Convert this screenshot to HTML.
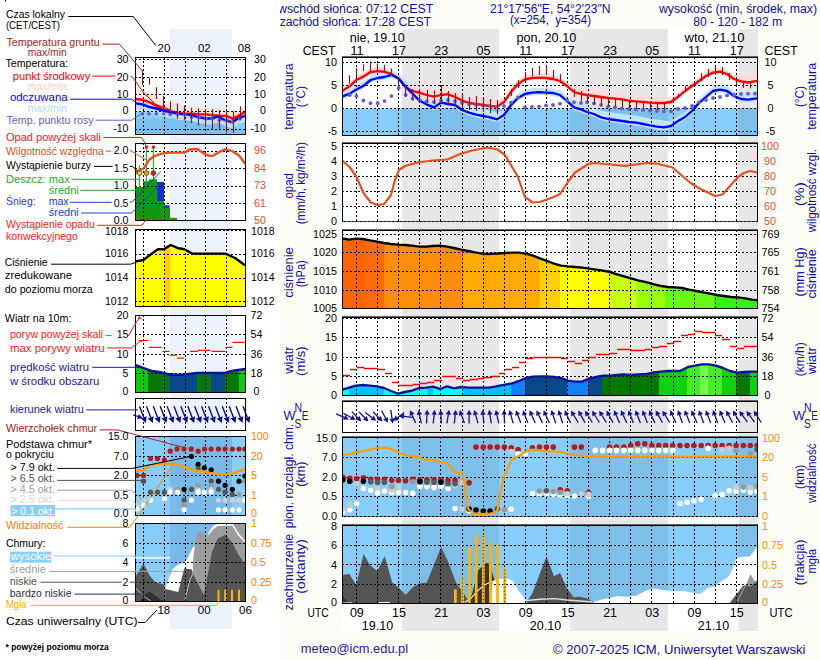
<!DOCTYPE html>
<html><head><meta charset="utf-8"><style>
html,body{margin:0;padding:0;background:#fdfdf8;overflow:hidden;width:820px;height:660px;}
svg{display:block;font-family:"Liberation Sans", sans-serif;}
</style></head><body>
<svg width="820" height="660" viewBox="0 0 820 660">
<defs>
<clipPath id="m0"><rect x="342.5" y="57.5" width="415" height="78"/></clipPath>
<clipPath id="m1"><rect x="342.5" y="143.5" width="415" height="78"/></clipPath>
<clipPath id="m2"><rect x="342.5" y="230.5" width="415" height="78"/></clipPath>
<clipPath id="m3"><rect x="342.5" y="317.5" width="415" height="78"/></clipPath>
<clipPath id="m4"><rect x="342.5" y="401.5" width="415" height="31"/></clipPath>
<clipPath id="m5"><rect x="342.5" y="437.5" width="415" height="79"/></clipPath>
<clipPath id="m6"><rect x="342.5" y="525.5" width="415" height="78"/></clipPath>
<clipPath id="l0"><rect x="135.5" y="57.5" width="110" height="77"/></clipPath>
<clipPath id="l1"><rect x="135.5" y="143.5" width="110" height="77"/></clipPath>
<clipPath id="l2"><rect x="135.5" y="229.5" width="110" height="77"/></clipPath>
<clipPath id="l3"><rect x="135.5" y="315.5" width="110" height="77"/></clipPath>
<clipPath id="l4"><rect x="135.5" y="398.5" width="110" height="32"/></clipPath>
<clipPath id="l5"><rect x="135.5" y="436.5" width="110" height="79"/></clipPath>
<clipPath id="l6"><rect x="135.5" y="523.5" width="110" height="78"/></clipPath>
</defs>
<rect x="0" y="0" width="820" height="660" fill="#fdfdf8" />
<rect x="0" y="0" width="280" height="660" fill="#fff" />
<rect x="5" y="0" width="1" height="1.5" fill="#000" />
<rect x="342" y="29" width="416" height="602" fill="#fff" />
<rect x="135" y="29" width="111" height="600" fill="#fff" />
<rect x="170" y="29" width="62" height="600" fill="#ecf2fb" />
<rect x="402" y="29" width="97" height="602" fill="#e7e7e7" />
<rect x="570" y="29" width="98" height="602" fill="#e7e7e7" />
<rect x="738.5" y="29" width="19.5" height="602" fill="#e7e7e7" />
<rect x="342.5" y="108.5" width="415" height="27.0" fill="#87cefa" />
<rect x="342.5" y="437.5" width="415" height="79.0" fill="#87cefa" />
<rect x="342.5" y="525.5" width="415" height="78.0" fill="#87cefa" />
<rect x="135.5" y="111.5" width="110" height="23.0" fill="#87cefa" />
<rect x="135.5" y="436.5" width="110" height="79.0" fill="#87cefa" />
<rect x="135.5" y="523.5" width="110" height="78.0" fill="#87cefa" />
<rect x="402" y="108.5" width="97" height="27.0" fill="#7cc0ea" />
<rect x="402" y="437.5" width="97" height="79.0" fill="#7cc0ea" />
<rect x="402" y="525.5" width="97" height="78.0" fill="#7cc0ea" />
<rect x="570" y="108.5" width="98" height="27.0" fill="#7cc0ea" />
<rect x="570" y="437.5" width="98" height="79.0" fill="#7cc0ea" />
<rect x="570" y="525.5" width="98" height="78.0" fill="#7cc0ea" />
<rect x="738.5" y="108.5" width="19.0" height="27.0" fill="#7cc0ea" />
<rect x="738.5" y="437.5" width="19.0" height="79.0" fill="#7cc0ea" />
<rect x="738.5" y="525.5" width="19.0" height="78.0" fill="#7cc0ea" />
<rect x="170" y="111.5" width="62" height="23.0" fill="#77bae9" />
<rect x="170" y="436.5" width="62" height="79.0" fill="#77bae9" />
<rect x="170" y="523.5" width="62" height="78.0" fill="#77bae9" />
<line x1="402" y1="62.5" x2="499" y2="62.5" stroke="#fff" stroke-width="1"/>
<line x1="402" y1="85.5" x2="499" y2="85.5" stroke="#fff" stroke-width="1"/>
<line x1="402" y1="108.5" x2="499" y2="108.5" stroke="#87cefa" stroke-width="1"/>
<line x1="402" y1="131.5" x2="499" y2="131.5" stroke="#87cefa" stroke-width="1"/>
<line x1="402" y1="146.5" x2="499" y2="146.5" stroke="#fff" stroke-width="1"/>
<line x1="402" y1="161.5" x2="499" y2="161.5" stroke="#fff" stroke-width="1"/>
<line x1="402" y1="176.5" x2="499" y2="176.5" stroke="#fff" stroke-width="1"/>
<line x1="402" y1="191.5" x2="499" y2="191.5" stroke="#fff" stroke-width="1"/>
<line x1="402" y1="206.5" x2="499" y2="206.5" stroke="#fff" stroke-width="1"/>
<line x1="402" y1="234.5" x2="499" y2="234.5" stroke="#fff" stroke-width="1"/>
<line x1="402" y1="252.5" x2="499" y2="252.5" stroke="#fff" stroke-width="1"/>
<line x1="402" y1="271.5" x2="499" y2="271.5" stroke="#fff" stroke-width="1"/>
<line x1="402" y1="290.5" x2="499" y2="290.5" stroke="#fff" stroke-width="1"/>
<line x1="402" y1="318.5" x2="499" y2="318.5" stroke="#fff" stroke-width="1"/>
<line x1="402" y1="337.5" x2="499" y2="337.5" stroke="#fff" stroke-width="1"/>
<line x1="402" y1="357.5" x2="499" y2="357.5" stroke="#fff" stroke-width="1"/>
<line x1="402" y1="376.5" x2="499" y2="376.5" stroke="#fff" stroke-width="1"/>
<line x1="402" y1="457.5" x2="499" y2="457.5" stroke="#87cefa" stroke-width="1"/>
<line x1="402" y1="477.5" x2="499" y2="477.5" stroke="#87cefa" stroke-width="1"/>
<line x1="402" y1="496.5" x2="499" y2="496.5" stroke="#87cefa" stroke-width="1"/>
<line x1="402" y1="545.5" x2="499" y2="545.5" stroke="#87cefa" stroke-width="1"/>
<line x1="402" y1="564.5" x2="499" y2="564.5" stroke="#87cefa" stroke-width="1"/>
<line x1="402" y1="584.5" x2="499" y2="584.5" stroke="#87cefa" stroke-width="1"/>
<line x1="419.5" y1="57" x2="419.5" y2="108.5" stroke="#fff" stroke-width="1"/>
<line x1="419.5" y1="108.5" x2="419.5" y2="135" stroke="#87cefa" stroke-width="1"/>
<line x1="419.5" y1="143" x2="419.5" y2="221" stroke="#fff" stroke-width="1"/>
<line x1="419.5" y1="230" x2="419.5" y2="308" stroke="#fff" stroke-width="1"/>
<line x1="419.5" y1="317" x2="419.5" y2="395" stroke="#fff" stroke-width="1"/>
<line x1="419.5" y1="401" x2="419.5" y2="432" stroke="#fff" stroke-width="1"/>
<line x1="419.5" y1="437" x2="419.5" y2="516" stroke="#87cefa" stroke-width="1"/>
<line x1="419.5" y1="525" x2="419.5" y2="603" stroke="#87cefa" stroke-width="1"/>
<line x1="440.5" y1="57" x2="440.5" y2="108.5" stroke="#fff" stroke-width="1"/>
<line x1="440.5" y1="108.5" x2="440.5" y2="135" stroke="#87cefa" stroke-width="1"/>
<line x1="440.5" y1="143" x2="440.5" y2="221" stroke="#fff" stroke-width="1"/>
<line x1="440.5" y1="230" x2="440.5" y2="308" stroke="#fff" stroke-width="1"/>
<line x1="440.5" y1="317" x2="440.5" y2="395" stroke="#fff" stroke-width="1"/>
<line x1="440.5" y1="401" x2="440.5" y2="432" stroke="#fff" stroke-width="1"/>
<line x1="440.5" y1="437" x2="440.5" y2="516" stroke="#87cefa" stroke-width="1"/>
<line x1="440.5" y1="525" x2="440.5" y2="603" stroke="#87cefa" stroke-width="1"/>
<line x1="462.5" y1="57" x2="462.5" y2="108.5" stroke="#fff" stroke-width="1"/>
<line x1="462.5" y1="108.5" x2="462.5" y2="135" stroke="#87cefa" stroke-width="1"/>
<line x1="462.5" y1="143" x2="462.5" y2="221" stroke="#fff" stroke-width="1"/>
<line x1="462.5" y1="230" x2="462.5" y2="308" stroke="#fff" stroke-width="1"/>
<line x1="462.5" y1="317" x2="462.5" y2="395" stroke="#fff" stroke-width="1"/>
<line x1="462.5" y1="401" x2="462.5" y2="432" stroke="#fff" stroke-width="1"/>
<line x1="462.5" y1="437" x2="462.5" y2="516" stroke="#87cefa" stroke-width="1"/>
<line x1="462.5" y1="525" x2="462.5" y2="603" stroke="#87cefa" stroke-width="1"/>
<line x1="483.5" y1="57" x2="483.5" y2="108.5" stroke="#fff" stroke-width="1"/>
<line x1="483.5" y1="108.5" x2="483.5" y2="135" stroke="#87cefa" stroke-width="1"/>
<line x1="483.5" y1="143" x2="483.5" y2="221" stroke="#fff" stroke-width="1"/>
<line x1="483.5" y1="230" x2="483.5" y2="308" stroke="#fff" stroke-width="1"/>
<line x1="483.5" y1="317" x2="483.5" y2="395" stroke="#fff" stroke-width="1"/>
<line x1="483.5" y1="401" x2="483.5" y2="432" stroke="#fff" stroke-width="1"/>
<line x1="483.5" y1="437" x2="483.5" y2="516" stroke="#87cefa" stroke-width="1"/>
<line x1="483.5" y1="525" x2="483.5" y2="603" stroke="#87cefa" stroke-width="1"/>
<line x1="570" y1="62.5" x2="668" y2="62.5" stroke="#fff" stroke-width="1"/>
<line x1="570" y1="85.5" x2="668" y2="85.5" stroke="#fff" stroke-width="1"/>
<line x1="570" y1="108.5" x2="668" y2="108.5" stroke="#87cefa" stroke-width="1"/>
<line x1="570" y1="131.5" x2="668" y2="131.5" stroke="#87cefa" stroke-width="1"/>
<line x1="570" y1="146.5" x2="668" y2="146.5" stroke="#fff" stroke-width="1"/>
<line x1="570" y1="161.5" x2="668" y2="161.5" stroke="#fff" stroke-width="1"/>
<line x1="570" y1="176.5" x2="668" y2="176.5" stroke="#fff" stroke-width="1"/>
<line x1="570" y1="191.5" x2="668" y2="191.5" stroke="#fff" stroke-width="1"/>
<line x1="570" y1="206.5" x2="668" y2="206.5" stroke="#fff" stroke-width="1"/>
<line x1="570" y1="234.5" x2="668" y2="234.5" stroke="#fff" stroke-width="1"/>
<line x1="570" y1="252.5" x2="668" y2="252.5" stroke="#fff" stroke-width="1"/>
<line x1="570" y1="271.5" x2="668" y2="271.5" stroke="#fff" stroke-width="1"/>
<line x1="570" y1="290.5" x2="668" y2="290.5" stroke="#fff" stroke-width="1"/>
<line x1="570" y1="318.5" x2="668" y2="318.5" stroke="#fff" stroke-width="1"/>
<line x1="570" y1="337.5" x2="668" y2="337.5" stroke="#fff" stroke-width="1"/>
<line x1="570" y1="357.5" x2="668" y2="357.5" stroke="#fff" stroke-width="1"/>
<line x1="570" y1="376.5" x2="668" y2="376.5" stroke="#fff" stroke-width="1"/>
<line x1="570" y1="457.5" x2="668" y2="457.5" stroke="#87cefa" stroke-width="1"/>
<line x1="570" y1="477.5" x2="668" y2="477.5" stroke="#87cefa" stroke-width="1"/>
<line x1="570" y1="496.5" x2="668" y2="496.5" stroke="#87cefa" stroke-width="1"/>
<line x1="570" y1="545.5" x2="668" y2="545.5" stroke="#87cefa" stroke-width="1"/>
<line x1="570" y1="564.5" x2="668" y2="564.5" stroke="#87cefa" stroke-width="1"/>
<line x1="570" y1="584.5" x2="668" y2="584.5" stroke="#87cefa" stroke-width="1"/>
<line x1="588.5" y1="57" x2="588.5" y2="108.5" stroke="#fff" stroke-width="1"/>
<line x1="588.5" y1="108.5" x2="588.5" y2="135" stroke="#87cefa" stroke-width="1"/>
<line x1="588.5" y1="143" x2="588.5" y2="221" stroke="#fff" stroke-width="1"/>
<line x1="588.5" y1="230" x2="588.5" y2="308" stroke="#fff" stroke-width="1"/>
<line x1="588.5" y1="317" x2="588.5" y2="395" stroke="#fff" stroke-width="1"/>
<line x1="588.5" y1="401" x2="588.5" y2="432" stroke="#fff" stroke-width="1"/>
<line x1="588.5" y1="437" x2="588.5" y2="516" stroke="#87cefa" stroke-width="1"/>
<line x1="588.5" y1="525" x2="588.5" y2="603" stroke="#87cefa" stroke-width="1"/>
<line x1="609.5" y1="57" x2="609.5" y2="108.5" stroke="#fff" stroke-width="1"/>
<line x1="609.5" y1="108.5" x2="609.5" y2="135" stroke="#87cefa" stroke-width="1"/>
<line x1="609.5" y1="143" x2="609.5" y2="221" stroke="#fff" stroke-width="1"/>
<line x1="609.5" y1="230" x2="609.5" y2="308" stroke="#fff" stroke-width="1"/>
<line x1="609.5" y1="317" x2="609.5" y2="395" stroke="#fff" stroke-width="1"/>
<line x1="609.5" y1="401" x2="609.5" y2="432" stroke="#fff" stroke-width="1"/>
<line x1="609.5" y1="437" x2="609.5" y2="516" stroke="#87cefa" stroke-width="1"/>
<line x1="609.5" y1="525" x2="609.5" y2="603" stroke="#87cefa" stroke-width="1"/>
<line x1="630.5" y1="57" x2="630.5" y2="108.5" stroke="#fff" stroke-width="1"/>
<line x1="630.5" y1="108.5" x2="630.5" y2="135" stroke="#87cefa" stroke-width="1"/>
<line x1="630.5" y1="143" x2="630.5" y2="221" stroke="#fff" stroke-width="1"/>
<line x1="630.5" y1="230" x2="630.5" y2="308" stroke="#fff" stroke-width="1"/>
<line x1="630.5" y1="317" x2="630.5" y2="395" stroke="#fff" stroke-width="1"/>
<line x1="630.5" y1="401" x2="630.5" y2="432" stroke="#fff" stroke-width="1"/>
<line x1="630.5" y1="437" x2="630.5" y2="516" stroke="#87cefa" stroke-width="1"/>
<line x1="630.5" y1="525" x2="630.5" y2="603" stroke="#87cefa" stroke-width="1"/>
<line x1="651.5" y1="57" x2="651.5" y2="108.5" stroke="#fff" stroke-width="1"/>
<line x1="651.5" y1="108.5" x2="651.5" y2="135" stroke="#87cefa" stroke-width="1"/>
<line x1="651.5" y1="143" x2="651.5" y2="221" stroke="#fff" stroke-width="1"/>
<line x1="651.5" y1="230" x2="651.5" y2="308" stroke="#fff" stroke-width="1"/>
<line x1="651.5" y1="317" x2="651.5" y2="395" stroke="#fff" stroke-width="1"/>
<line x1="651.5" y1="401" x2="651.5" y2="432" stroke="#fff" stroke-width="1"/>
<line x1="651.5" y1="437" x2="651.5" y2="516" stroke="#87cefa" stroke-width="1"/>
<line x1="651.5" y1="525" x2="651.5" y2="603" stroke="#87cefa" stroke-width="1"/>
<line x1="738.5" y1="62.5" x2="757" y2="62.5" stroke="#fff" stroke-width="1"/>
<line x1="738.5" y1="85.5" x2="757" y2="85.5" stroke="#fff" stroke-width="1"/>
<line x1="738.5" y1="108.5" x2="757" y2="108.5" stroke="#87cefa" stroke-width="1"/>
<line x1="738.5" y1="131.5" x2="757" y2="131.5" stroke="#87cefa" stroke-width="1"/>
<line x1="738.5" y1="146.5" x2="757" y2="146.5" stroke="#fff" stroke-width="1"/>
<line x1="738.5" y1="161.5" x2="757" y2="161.5" stroke="#fff" stroke-width="1"/>
<line x1="738.5" y1="176.5" x2="757" y2="176.5" stroke="#fff" stroke-width="1"/>
<line x1="738.5" y1="191.5" x2="757" y2="191.5" stroke="#fff" stroke-width="1"/>
<line x1="738.5" y1="206.5" x2="757" y2="206.5" stroke="#fff" stroke-width="1"/>
<line x1="738.5" y1="234.5" x2="757" y2="234.5" stroke="#fff" stroke-width="1"/>
<line x1="738.5" y1="252.5" x2="757" y2="252.5" stroke="#fff" stroke-width="1"/>
<line x1="738.5" y1="271.5" x2="757" y2="271.5" stroke="#fff" stroke-width="1"/>
<line x1="738.5" y1="290.5" x2="757" y2="290.5" stroke="#fff" stroke-width="1"/>
<line x1="738.5" y1="318.5" x2="757" y2="318.5" stroke="#fff" stroke-width="1"/>
<line x1="738.5" y1="337.5" x2="757" y2="337.5" stroke="#fff" stroke-width="1"/>
<line x1="738.5" y1="357.5" x2="757" y2="357.5" stroke="#fff" stroke-width="1"/>
<line x1="738.5" y1="376.5" x2="757" y2="376.5" stroke="#fff" stroke-width="1"/>
<line x1="738.5" y1="457.5" x2="757" y2="457.5" stroke="#87cefa" stroke-width="1"/>
<line x1="738.5" y1="477.5" x2="757" y2="477.5" stroke="#87cefa" stroke-width="1"/>
<line x1="738.5" y1="496.5" x2="757" y2="496.5" stroke="#87cefa" stroke-width="1"/>
<line x1="738.5" y1="545.5" x2="757" y2="545.5" stroke="#87cefa" stroke-width="1"/>
<line x1="738.5" y1="564.5" x2="757" y2="564.5" stroke="#87cefa" stroke-width="1"/>
<line x1="738.5" y1="584.5" x2="757" y2="584.5" stroke="#87cefa" stroke-width="1"/>
<line x1="170" y1="59.5" x2="232" y2="59.5" stroke="#fff" stroke-width="1"/>
<line x1="170" y1="77.5" x2="232" y2="77.5" stroke="#fff" stroke-width="1"/>
<line x1="170" y1="94.5" x2="232" y2="94.5" stroke="#fff" stroke-width="1"/>
<line x1="170" y1="111.5" x2="232" y2="111.5" stroke="#87cefa" stroke-width="1"/>
<line x1="170" y1="129.5" x2="232" y2="129.5" stroke="#87cefa" stroke-width="1"/>
<line x1="170" y1="151.5" x2="232" y2="151.5" stroke="#fff" stroke-width="1"/>
<line x1="170" y1="168.5" x2="232" y2="168.5" stroke="#fff" stroke-width="1"/>
<line x1="170" y1="186.5" x2="232" y2="186.5" stroke="#fff" stroke-width="1"/>
<line x1="170" y1="203.5" x2="232" y2="203.5" stroke="#fff" stroke-width="1"/>
<line x1="170" y1="230.5" x2="232" y2="230.5" stroke="#fff" stroke-width="1"/>
<line x1="170" y1="254.5" x2="232" y2="254.5" stroke="#fff" stroke-width="1"/>
<line x1="170" y1="278.5" x2="232" y2="278.5" stroke="#fff" stroke-width="1"/>
<line x1="170" y1="301.5" x2="232" y2="301.5" stroke="#fff" stroke-width="1"/>
<line x1="170" y1="315.5" x2="232" y2="315.5" stroke="#fff" stroke-width="1"/>
<line x1="170" y1="334.5" x2="232" y2="334.5" stroke="#fff" stroke-width="1"/>
<line x1="170" y1="354.5" x2="232" y2="354.5" stroke="#fff" stroke-width="1"/>
<line x1="170" y1="373.5" x2="232" y2="373.5" stroke="#fff" stroke-width="1"/>
<line x1="170" y1="456.5" x2="232" y2="456.5" stroke="#87cefa" stroke-width="1"/>
<line x1="170" y1="475.5" x2="232" y2="475.5" stroke="#87cefa" stroke-width="1"/>
<line x1="170" y1="495.5" x2="232" y2="495.5" stroke="#87cefa" stroke-width="1"/>
<line x1="170" y1="543.5" x2="232" y2="543.5" stroke="#87cefa" stroke-width="1"/>
<line x1="170" y1="562.5" x2="232" y2="562.5" stroke="#87cefa" stroke-width="1"/>
<line x1="170" y1="582.5" x2="232" y2="582.5" stroke="#87cefa" stroke-width="1"/>
<line x1="185.5" y1="57" x2="185.5" y2="111.5" stroke="#fff" stroke-width="1"/>
<line x1="185.5" y1="111.5" x2="185.5" y2="134" stroke="#87cefa" stroke-width="1"/>
<line x1="185.5" y1="143" x2="185.5" y2="220" stroke="#fff" stroke-width="1"/>
<line x1="185.5" y1="229" x2="185.5" y2="306" stroke="#fff" stroke-width="1"/>
<line x1="185.5" y1="315" x2="185.5" y2="392" stroke="#fff" stroke-width="1"/>
<line x1="185.5" y1="398" x2="185.5" y2="430" stroke="#fff" stroke-width="1"/>
<line x1="185.5" y1="436" x2="185.5" y2="515" stroke="#87cefa" stroke-width="1"/>
<line x1="185.5" y1="523" x2="185.5" y2="601" stroke="#87cefa" stroke-width="1"/>
<line x1="205.5" y1="57" x2="205.5" y2="111.5" stroke="#fff" stroke-width="1"/>
<line x1="205.5" y1="111.5" x2="205.5" y2="134" stroke="#87cefa" stroke-width="1"/>
<line x1="205.5" y1="143" x2="205.5" y2="220" stroke="#fff" stroke-width="1"/>
<line x1="205.5" y1="229" x2="205.5" y2="306" stroke="#fff" stroke-width="1"/>
<line x1="205.5" y1="315" x2="205.5" y2="392" stroke="#fff" stroke-width="1"/>
<line x1="205.5" y1="398" x2="205.5" y2="430" stroke="#fff" stroke-width="1"/>
<line x1="205.5" y1="436" x2="205.5" y2="515" stroke="#87cefa" stroke-width="1"/>
<line x1="205.5" y1="523" x2="205.5" y2="601" stroke="#87cefa" stroke-width="1"/>
<line x1="226.5" y1="57" x2="226.5" y2="111.5" stroke="#fff" stroke-width="1"/>
<line x1="226.5" y1="111.5" x2="226.5" y2="134" stroke="#87cefa" stroke-width="1"/>
<line x1="226.5" y1="143" x2="226.5" y2="220" stroke="#fff" stroke-width="1"/>
<line x1="226.5" y1="229" x2="226.5" y2="306" stroke="#fff" stroke-width="1"/>
<line x1="226.5" y1="315" x2="226.5" y2="392" stroke="#fff" stroke-width="1"/>
<line x1="226.5" y1="398" x2="226.5" y2="430" stroke="#fff" stroke-width="1"/>
<line x1="226.5" y1="436" x2="226.5" y2="515" stroke="#87cefa" stroke-width="1"/>
<line x1="226.5" y1="523" x2="226.5" y2="601" stroke="#87cefa" stroke-width="1"/>
<g clip-path="url(#m0)">
<polygon points="342.5,86.9 349.8,82.1 356.3,76.0 363.4,72.6 370.6,68.1 377.7,67.1 384.5,67.8 391.4,69.9 398.6,74.6 405.7,80.6 412.5,84.7 419.3,86.0 426.5,88.5 434.0,90.1 441.0,88.5 448.0,87.7 455.0,90.5 462.0,94.1 469.0,96.5 476.0,97.5 483.0,98.5 490.0,99.5 497.0,100.1 504.0,98.0 511.0,88.0 518.0,80.0 525.0,75.4 532.0,74.0 539.0,73.6 546.0,74.0 553.0,75.0 560.0,77.0 567.0,82.0 574.0,85.5 581.0,87.5 587.0,88.5 594.0,89.5 601.0,90.5 608.0,91.5 615.0,92.1 622.0,92.9 629.0,94.1 636.0,94.9 643.0,95.5 650.0,96.1 657.0,96.5 664.0,96.5 671.0,98.0 678.0,93.0 685.0,87.0 692.0,82.0 699.0,77.0 706.0,72.0 713.0,68.6 720.0,67.6 727.0,70.0 734.0,75.0 741.0,74.9 748.0,76.0 757.0,74.3 757.0,83.3 748.0,85.0 741.0,83.9 734.0,81.5 727.0,76.5 720.0,74.1 713.0,75.1 706.0,78.5 699.0,83.5 692.0,88.5 685.0,93.5 678.0,99.5 671.0,104.5 664.0,105.5 657.0,105.5 650.0,105.1 643.0,104.5 636.0,103.9 629.0,103.1 622.0,101.9 615.0,101.1 608.0,100.5 601.0,99.5 594.0,98.5 587.0,97.5 581.0,96.5 574.0,94.5 567.0,88.5 560.0,83.5 553.0,81.5 546.0,80.5 539.0,80.1 532.0,80.5 525.0,81.9 518.0,86.5 511.0,94.5 504.0,104.5 497.0,109.1 490.0,108.5 483.0,107.5 476.0,106.5 469.0,105.5 462.0,103.1 455.0,99.5 448.0,96.7 441.0,97.5 434.0,99.1 426.5,97.5 419.3,95.0 412.5,93.7 405.7,89.6 398.6,81.1 391.4,76.4 384.5,74.3 377.7,73.6 370.6,74.6 363.4,79.1 356.3,82.5 349.8,88.6 342.5,93.4" fill="#ffdcdc" />
<polygon points="342.5,91.9 349.8,89.1 356.3,85.0 363.4,81.4 370.6,75.5 377.7,73.5 384.5,72.5 391.4,70.3 398.6,74.1 405.7,80.0 412.5,86.6 419.3,93.5 427.0,97.6 434.0,100.4 441.0,95.6 448.0,97.0 455.0,98.0 462.0,103.0 469.0,105.6 476.0,107.6 483.0,109.0 490.0,110.4 497.0,112.4 504.0,110.5 511.0,100.5 518.0,93.5 525.0,89.5 532.0,88.1 539.0,87.7 546.0,88.1 553.0,88.5 560.0,90.5 567.0,96.5 574.0,100.4 581.0,102.4 587.0,105.0 594.0,107.0 601.0,110.4 608.0,112.0 615.0,113.0 622.0,114.0 629.0,115.0 636.0,115.6 643.0,117.0 650.0,118.4 657.0,119.6 664.0,120.4 671.0,121.5 678.0,116.5 685.0,112.5 692.0,106.5 699.0,98.5 706.0,92.5 713.0,86.5 720.0,85.1 727.0,86.5 734.0,91.5 741.0,92.0 748.0,92.6 757.0,91.3 757.0,101.1 748.0,102.4 741.0,101.8 734.0,98.8 727.0,93.8 720.0,92.4 713.0,93.8 706.0,99.8 699.0,105.8 692.0,113.8 685.0,119.8 678.0,123.8 671.0,128.8 664.0,130.2 657.0,129.4 650.0,128.2 643.0,126.8 636.0,125.4 629.0,124.8 622.0,123.8 615.0,122.8 608.0,121.8 601.0,120.2 594.0,116.8 587.0,114.8 581.0,112.2 574.0,110.2 567.0,103.8 560.0,97.8 553.0,95.8 546.0,95.4 539.0,95.0 532.0,95.4 525.0,96.8 518.0,100.8 511.0,107.8 504.0,117.8 497.0,122.2 490.0,120.2 483.0,118.8 476.0,117.4 469.0,115.4 462.0,112.8 455.0,107.8 448.0,106.8 441.0,105.4 434.0,110.2 427.0,107.4 419.3,103.3 412.5,96.4 405.7,89.8 398.6,81.4 391.4,77.6 384.5,79.8 377.7,80.8 370.6,82.8 363.4,88.7 356.3,92.3 349.8,96.4 342.5,99.2" fill="#bfe5ff" />
</g>
<line x1="342" y1="62.5" x2="757" y2="62.5" stroke="#000" stroke-width="1" stroke-dasharray="2,2"/>
<line x1="342" y1="85.5" x2="757" y2="85.5" stroke="#000" stroke-width="1" stroke-dasharray="2,2"/>
<line x1="342" y1="108.5" x2="757" y2="108.5" stroke="#000" stroke-width="1" stroke-dasharray="2,2"/>
<line x1="342" y1="131.5" x2="757" y2="131.5" stroke="#000" stroke-width="1" stroke-dasharray="2,2"/>
<line x1="356.5" y1="57" x2="356.5" y2="135" stroke="#000" stroke-width="1" stroke-dasharray="2,2"/>
<line x1="377.5" y1="57" x2="377.5" y2="135" stroke="#000" stroke-width="1" stroke-dasharray="2,2"/>
<line x1="398.5" y1="57" x2="398.5" y2="135" stroke="#000" stroke-width="1" stroke-dasharray="2,2"/>
<line x1="419.5" y1="57" x2="419.5" y2="135" stroke="#000" stroke-width="1" stroke-dasharray="2,2"/>
<line x1="440.5" y1="57" x2="440.5" y2="135" stroke="#000" stroke-width="1" stroke-dasharray="2,2"/>
<line x1="462.5" y1="57" x2="462.5" y2="135" stroke="#000" stroke-width="1" stroke-dasharray="2,2"/>
<line x1="483.5" y1="57" x2="483.5" y2="135" stroke="#000" stroke-width="1" stroke-dasharray="2,2"/>
<line x1="504.5" y1="57" x2="504.5" y2="135" stroke="#000" stroke-width="1" stroke-dasharray="2,2"/>
<line x1="525.5" y1="57" x2="525.5" y2="135" stroke="#000" stroke-width="1" stroke-dasharray="2,2"/>
<line x1="546.5" y1="57" x2="546.5" y2="135" stroke="#000" stroke-width="1" stroke-dasharray="2,2"/>
<line x1="567.5" y1="57" x2="567.5" y2="135" stroke="#000" stroke-width="1" stroke-dasharray="2,2"/>
<line x1="588.5" y1="57" x2="588.5" y2="135" stroke="#000" stroke-width="1" stroke-dasharray="2,2"/>
<line x1="609.5" y1="57" x2="609.5" y2="135" stroke="#000" stroke-width="1" stroke-dasharray="2,2"/>
<line x1="630.5" y1="57" x2="630.5" y2="135" stroke="#000" stroke-width="1" stroke-dasharray="2,2"/>
<line x1="651.5" y1="57" x2="651.5" y2="135" stroke="#000" stroke-width="1" stroke-dasharray="2,2"/>
<line x1="673.5" y1="57" x2="673.5" y2="135" stroke="#000" stroke-width="1" stroke-dasharray="2,2"/>
<line x1="694.5" y1="57" x2="694.5" y2="135" stroke="#000" stroke-width="1" stroke-dasharray="2,2"/>
<line x1="715.5" y1="57" x2="715.5" y2="135" stroke="#000" stroke-width="1" stroke-dasharray="2,2"/>
<line x1="736.5" y1="57" x2="736.5" y2="135" stroke="#000" stroke-width="1" stroke-dasharray="2,2"/>
<g clip-path="url(#m0)">
<polyline points="342.5,90.9 349.8,86.1 356.3,80.0 363.4,76.6 370.6,72.1 377.7,71.1 384.5,71.8 391.4,73.9 398.6,78.6 405.7,87.1 412.5,91.2 419.3,92.5 426.5,95.0 434.0,96.6 441.0,95.0 448.0,94.2 455.0,97.0 462.0,100.6 469.0,103.0 476.0,104.0 483.0,105.0 490.0,106.0 497.0,106.6 504.0,102.0 511.0,92.0 518.0,84.0 525.0,79.4 532.0,78.0 539.0,77.6 546.0,78.0 553.0,79.0 560.0,81.0 567.0,86.0 574.0,92.0 581.0,94.0 587.0,95.0 594.0,96.0 601.0,97.0 608.0,98.0 615.0,98.6 622.0,99.4 629.0,100.6 636.0,101.4 643.0,102.0 650.0,102.6 657.0,103.0 664.0,103.0 671.0,102.0 678.0,97.0 685.0,91.0 692.0,86.0 699.0,81.0 706.0,76.0 713.0,72.6 720.0,71.6 727.0,74.0 734.0,79.0 741.0,81.4 748.0,82.5 757.0,80.8" fill="none" stroke="#ff0000" stroke-width="2.3" stroke-linejoin="round" />
<polyline points="342.5,96.4 349.8,93.6 356.3,89.5 363.4,85.9 370.6,80.0 377.7,78.0 384.5,77.0 391.4,74.8 398.6,78.6 405.7,87.0 412.5,93.6 419.3,100.5 427.0,104.6 434.0,107.4 441.0,102.6 448.0,104.0 455.0,105.0 462.0,110.0 469.0,112.6 476.0,114.6 483.0,116.0 490.0,117.4 497.0,119.4 504.0,115.0 511.0,105.0 518.0,98.0 525.0,94.0 532.0,92.6 539.0,92.2 546.0,92.6 553.0,93.0 560.0,95.0 567.0,101.0 574.0,107.4 581.0,109.4 587.0,112.0 594.0,114.0 601.0,117.4 608.0,119.0 615.0,120.0 622.0,121.0 629.0,122.0 636.0,122.6 643.0,124.0 650.0,125.4 657.0,126.6 664.0,127.4 671.0,126.0 678.0,121.0 685.0,117.0 692.0,111.0 699.0,103.0 706.0,97.0 713.0,91.0 720.0,89.6 727.0,91.0 734.0,96.0 741.0,99.0 748.0,99.6 757.0,98.3" fill="none" stroke="#0000ff" stroke-width="2.3" stroke-linejoin="round" />
<circle cx="349.8" cy="95" r="1.9" fill="#6a5acd"/>
<circle cx="356.3" cy="96.1" r="1.9" fill="#6a5acd"/>
<circle cx="363.4" cy="100.5" r="1.9" fill="#6a5acd"/>
<circle cx="370.6" cy="103.2" r="1.9" fill="#6a5acd"/>
<circle cx="377.7" cy="103.2" r="1.9" fill="#6a5acd"/>
<circle cx="384.5" cy="101.1" r="1.9" fill="#6a5acd"/>
<circle cx="391.4" cy="96.1" r="1.9" fill="#6a5acd"/>
<circle cx="398.6" cy="87.9" r="1.9" fill="#6a5acd"/>
<circle cx="405.7" cy="95" r="1.9" fill="#6a5acd"/>
<circle cx="412.5" cy="98.8" r="1.9" fill="#6a5acd"/>
<circle cx="419.5" cy="100" r="1.9" fill="#6a5acd"/>
<circle cx="426.5" cy="101.4" r="1.9" fill="#6a5acd"/>
<circle cx="434" cy="102" r="1.9" fill="#6a5acd"/>
<circle cx="441" cy="100.6" r="1.9" fill="#6a5acd"/>
<circle cx="448" cy="100" r="1.9" fill="#6a5acd"/>
<circle cx="455" cy="101" r="1.9" fill="#6a5acd"/>
<circle cx="462" cy="103" r="1.9" fill="#6a5acd"/>
<circle cx="469" cy="104" r="1.9" fill="#6a5acd"/>
<circle cx="476" cy="105" r="1.9" fill="#6a5acd"/>
<circle cx="483" cy="105.4" r="1.9" fill="#6a5acd"/>
<circle cx="490" cy="106" r="1.9" fill="#6a5acd"/>
<circle cx="497" cy="106.6" r="1.9" fill="#6a5acd"/>
<circle cx="504" cy="106" r="1.9" fill="#6a5acd"/>
<circle cx="511" cy="102.6" r="1.9" fill="#6a5acd"/>
<circle cx="518" cy="97.6" r="1.9" fill="#6a5acd"/>
<circle cx="525" cy="107.4" r="1.9" fill="#6a5acd"/>
<circle cx="532" cy="107" r="1.9" fill="#6a5acd"/>
<circle cx="539" cy="106.6" r="1.9" fill="#6a5acd"/>
<circle cx="546" cy="105.4" r="1.9" fill="#6a5acd"/>
<circle cx="553" cy="105" r="1.9" fill="#6a5acd"/>
<circle cx="560" cy="103.6" r="1.9" fill="#6a5acd"/>
<circle cx="567" cy="100.6" r="1.9" fill="#6a5acd"/>
<circle cx="574" cy="102.2" r="1.9" fill="#6a5acd"/>
<circle cx="581" cy="103" r="1.9" fill="#6a5acd"/>
<circle cx="587" cy="102.4" r="1.9" fill="#6a5acd"/>
<circle cx="594" cy="103.4" r="1.9" fill="#6a5acd"/>
<circle cx="601" cy="105" r="1.9" fill="#6a5acd"/>
<circle cx="608" cy="106.6" r="1.9" fill="#6a5acd"/>
<circle cx="615" cy="107.4" r="1.9" fill="#6a5acd"/>
<circle cx="622" cy="108.6" r="1.9" fill="#6a5acd"/>
<circle cx="629" cy="109" r="1.9" fill="#6a5acd"/>
<circle cx="636" cy="109.4" r="1.9" fill="#6a5acd"/>
<circle cx="643" cy="110" r="1.9" fill="#6a5acd"/>
<circle cx="650" cy="110.6" r="1.9" fill="#6a5acd"/>
<circle cx="657" cy="111" r="1.9" fill="#6a5acd"/>
<circle cx="664" cy="111.6" r="1.9" fill="#6a5acd"/>
<circle cx="671" cy="111.4" r="1.9" fill="#6a5acd"/>
<circle cx="678" cy="109" r="1.9" fill="#6a5acd"/>
<circle cx="685" cy="108" r="1.9" fill="#6a5acd"/>
<circle cx="692" cy="106" r="1.9" fill="#6a5acd"/>
<circle cx="699" cy="102.6" r="1.9" fill="#6a5acd"/>
<circle cx="706" cy="100" r="1.9" fill="#6a5acd"/>
<circle cx="713" cy="98" r="1.9" fill="#6a5acd"/>
<circle cx="720" cy="97" r="1.9" fill="#6a5acd"/>
<circle cx="727" cy="95.4" r="1.9" fill="#6a5acd"/>
<circle cx="734" cy="95" r="1.9" fill="#6a5acd"/>
<circle cx="741" cy="94" r="1.9" fill="#6a5acd"/>
<circle cx="748" cy="93.7" r="1.9" fill="#6a5acd"/>
<circle cx="755" cy="93.7" r="1.9" fill="#6a5acd"/>
<line x1="349.5" y1="75.2" x2="349.5" y2="83.4" stroke="#9a1414" stroke-width="1.15" />
<line x1="356.5" y1="67.7" x2="356.5" y2="77.3" stroke="#9a1414" stroke-width="1.15" />
<line x1="363.5" y1="64.3" x2="363.5" y2="71" stroke="#9a1414" stroke-width="1.15" />
<line x1="370.5" y1="61.6" x2="370.5" y2="71.8" stroke="#9a1414" stroke-width="1.15" />
<line x1="377.5" y1="63.6" x2="377.5" y2="70.5" stroke="#9a1414" stroke-width="1.15" />
<line x1="384.5" y1="64.7" x2="384.5" y2="72.5" stroke="#9a1414" stroke-width="1.15" />
<line x1="391.5" y1="68.4" x2="391.5" y2="75.9" stroke="#9a1414" stroke-width="1.15" />
<line x1="398.5" y1="78" x2="398.5" y2="85.5" stroke="#9a1414" stroke-width="1.15" />
<line x1="405.5" y1="86" x2="405.5" y2="96.4" stroke="#9a1414" stroke-width="1.15" />
<line x1="412.5" y1="88.9" x2="412.5" y2="99.8" stroke="#9a1414" stroke-width="1.15" />
<line x1="419.5" y1="89.3" x2="419.5" y2="102.5" stroke="#9a1414" stroke-width="1.15" />
<line x1="427.5" y1="90" x2="427.5" y2="103" stroke="#9a1414" stroke-width="1.15" />
<line x1="434.5" y1="90.6" x2="434.5" y2="104" stroke="#9a1414" stroke-width="1.15" />
<line x1="441.5" y1="85" x2="441.5" y2="102" stroke="#9a1414" stroke-width="1.15" />
<line x1="448.5" y1="91" x2="448.5" y2="104" stroke="#9a1414" stroke-width="1.15" />
<line x1="455.5" y1="93" x2="455.5" y2="106" stroke="#9a1414" stroke-width="1.15" />
<line x1="462.5" y1="94" x2="462.5" y2="108" stroke="#9a1414" stroke-width="1.15" />
<line x1="469.5" y1="97" x2="469.5" y2="110" stroke="#9a1414" stroke-width="1.15" />
<line x1="476.5" y1="96" x2="476.5" y2="111" stroke="#9a1414" stroke-width="1.15" />
<line x1="483.5" y1="98" x2="483.5" y2="112" stroke="#9a1414" stroke-width="1.15" />
<line x1="490.5" y1="99" x2="490.5" y2="113" stroke="#9a1414" stroke-width="1.15" />
<line x1="497.5" y1="100" x2="497.5" y2="114" stroke="#9a1414" stroke-width="1.15" />
<line x1="511.5" y1="89" x2="511.5" y2="96" stroke="#9a1414" stroke-width="1.15" />
<line x1="518.5" y1="80" x2="518.5" y2="88" stroke="#9a1414" stroke-width="1.15" />
<line x1="525.5" y1="72" x2="525.5" y2="82" stroke="#9a1414" stroke-width="1.15" />
<line x1="532.5" y1="68" x2="532.5" y2="76" stroke="#9a1414" stroke-width="1.15" />
<line x1="539.5" y1="66" x2="539.5" y2="75" stroke="#9a1414" stroke-width="1.15" />
<line x1="546.5" y1="66" x2="546.5" y2="75" stroke="#9a1414" stroke-width="1.15" />
<line x1="553.5" y1="70" x2="553.5" y2="78" stroke="#9a1414" stroke-width="1.15" />
<line x1="560.5" y1="74" x2="560.5" y2="83" stroke="#9a1414" stroke-width="1.15" />
<line x1="574.5" y1="89" x2="574.5" y2="97" stroke="#9a1414" stroke-width="1.15" />
<line x1="581.5" y1="91" x2="581.5" y2="101" stroke="#9a1414" stroke-width="1.15" />
<line x1="587.5" y1="94" x2="587.5" y2="102" stroke="#9a1414" stroke-width="1.15" />
<line x1="594.5" y1="96" x2="594.5" y2="104" stroke="#9a1414" stroke-width="1.15" />
<line x1="601.5" y1="97" x2="601.5" y2="105" stroke="#9a1414" stroke-width="1.15" />
<line x1="608.5" y1="98" x2="608.5" y2="106" stroke="#9a1414" stroke-width="1.15" />
<line x1="615.5" y1="98" x2="615.5" y2="106.6" stroke="#9a1414" stroke-width="1.15" />
<line x1="622.5" y1="99" x2="622.5" y2="107.4" stroke="#9a1414" stroke-width="1.15" />
<line x1="629.5" y1="100.6" x2="629.5" y2="108" stroke="#9a1414" stroke-width="1.15" />
<line x1="636.5" y1="101" x2="636.5" y2="109" stroke="#9a1414" stroke-width="1.15" />
<line x1="643.5" y1="101.4" x2="643.5" y2="109.4" stroke="#9a1414" stroke-width="1.15" />
<line x1="650.5" y1="101.4" x2="650.5" y2="109.4" stroke="#9a1414" stroke-width="1.15" />
<line x1="657.5" y1="102.6" x2="657.5" y2="110" stroke="#9a1414" stroke-width="1.15" />
<line x1="664.5" y1="103" x2="664.5" y2="110" stroke="#9a1414" stroke-width="1.15" />
<line x1="678.5" y1="94" x2="678.5" y2="98" stroke="#9a1414" stroke-width="1.15" />
<line x1="685.5" y1="86" x2="685.5" y2="92" stroke="#9a1414" stroke-width="1.15" />
<line x1="701.5" y1="73" x2="701.5" y2="81" stroke="#9a1414" stroke-width="1.15" />
<line x1="708.5" y1="69" x2="708.5" y2="77" stroke="#9a1414" stroke-width="1.15" />
<line x1="715.5" y1="67" x2="715.5" y2="75" stroke="#9a1414" stroke-width="1.15" />
<line x1="722.5" y1="67" x2="722.5" y2="75" stroke="#9a1414" stroke-width="1.15" />
<line x1="729.5" y1="73" x2="729.5" y2="80" stroke="#9a1414" stroke-width="1.15" />
<line x1="736.5" y1="79" x2="736.5" y2="85" stroke="#9a1414" stroke-width="1.15" />
<line x1="743.5" y1="83" x2="743.5" y2="88" stroke="#9a1414" stroke-width="1.15" />
<line x1="750.5" y1="82.5" x2="750.5" y2="88.3" stroke="#9a1414" stroke-width="1.15" />
</g>
<line x1="342" y1="146.5" x2="757" y2="146.5" stroke="#000" stroke-width="1" stroke-dasharray="2,2"/>
<line x1="342" y1="161.5" x2="757" y2="161.5" stroke="#000" stroke-width="1" stroke-dasharray="2,2"/>
<line x1="342" y1="176.5" x2="757" y2="176.5" stroke="#000" stroke-width="1" stroke-dasharray="2,2"/>
<line x1="342" y1="191.5" x2="757" y2="191.5" stroke="#000" stroke-width="1" stroke-dasharray="2,2"/>
<line x1="342" y1="206.5" x2="757" y2="206.5" stroke="#000" stroke-width="1" stroke-dasharray="2,2"/>
<line x1="356.5" y1="143" x2="356.5" y2="221" stroke="#000" stroke-width="1" stroke-dasharray="2,2"/>
<line x1="377.5" y1="143" x2="377.5" y2="221" stroke="#000" stroke-width="1" stroke-dasharray="2,2"/>
<line x1="398.5" y1="143" x2="398.5" y2="221" stroke="#000" stroke-width="1" stroke-dasharray="2,2"/>
<line x1="419.5" y1="143" x2="419.5" y2="221" stroke="#000" stroke-width="1" stroke-dasharray="2,2"/>
<line x1="440.5" y1="143" x2="440.5" y2="221" stroke="#000" stroke-width="1" stroke-dasharray="2,2"/>
<line x1="462.5" y1="143" x2="462.5" y2="221" stroke="#000" stroke-width="1" stroke-dasharray="2,2"/>
<line x1="483.5" y1="143" x2="483.5" y2="221" stroke="#000" stroke-width="1" stroke-dasharray="2,2"/>
<line x1="504.5" y1="143" x2="504.5" y2="221" stroke="#000" stroke-width="1" stroke-dasharray="2,2"/>
<line x1="525.5" y1="143" x2="525.5" y2="221" stroke="#000" stroke-width="1" stroke-dasharray="2,2"/>
<line x1="546.5" y1="143" x2="546.5" y2="221" stroke="#000" stroke-width="1" stroke-dasharray="2,2"/>
<line x1="567.5" y1="143" x2="567.5" y2="221" stroke="#000" stroke-width="1" stroke-dasharray="2,2"/>
<line x1="588.5" y1="143" x2="588.5" y2="221" stroke="#000" stroke-width="1" stroke-dasharray="2,2"/>
<line x1="609.5" y1="143" x2="609.5" y2="221" stroke="#000" stroke-width="1" stroke-dasharray="2,2"/>
<line x1="630.5" y1="143" x2="630.5" y2="221" stroke="#000" stroke-width="1" stroke-dasharray="2,2"/>
<line x1="651.5" y1="143" x2="651.5" y2="221" stroke="#000" stroke-width="1" stroke-dasharray="2,2"/>
<line x1="673.5" y1="143" x2="673.5" y2="221" stroke="#000" stroke-width="1" stroke-dasharray="2,2"/>
<line x1="694.5" y1="143" x2="694.5" y2="221" stroke="#000" stroke-width="1" stroke-dasharray="2,2"/>
<line x1="715.5" y1="143" x2="715.5" y2="221" stroke="#000" stroke-width="1" stroke-dasharray="2,2"/>
<line x1="736.5" y1="143" x2="736.5" y2="221" stroke="#000" stroke-width="1" stroke-dasharray="2,2"/>
<g clip-path="url(#m1)">
<polyline points="342.5,160.7 350.0,167.5 356.0,176.0 364.0,194.0 371.0,202.5 377.5,205.0 384.0,204.0 391.0,195.0 395.0,180.0 399.0,170.0 405.0,166.0 417.5,162.5 432.5,160.5 447.5,159.5 460.0,154.0 472.5,150.5 480.0,149.0 487.5,147.5 497.5,149.5 505.0,155.0 517.5,176.0 525.0,197.0 532.5,202.5 540.0,202.0 552.5,197.5 560.0,194.0 567.5,182.5 575.0,172.5 588.8,163.8 595.0,163.0 610.0,164.5 625.0,165.8 647.5,163.0 657.5,163.7 672.5,167.5 690.0,182.5 700.0,188.8 715.0,196.0 722.5,194.5 737.5,177.5 743.8,173.0 750.0,171.0 757.5,172.5" fill="none" stroke="#e8501e" stroke-width="2.2" stroke-linejoin="round" />
</g>
<defs><clipPath id="pres"><polygon points="342.4,238.4 349.0,239.6 356.0,238.6 363.0,239.0 370.0,240.4 377.0,241.6 384.0,243.0 391.0,244.0 398.0,244.6 405.0,245.0 412.0,245.6 419.0,246.6 426.0,246.6 433.0,246.0 440.0,245.6 447.0,246.6 454.0,248.0 461.0,249.6 468.0,251.0 475.0,252.4 482.0,253.6 489.0,254.0 496.0,253.6 505.0,253.0 512.0,252.6 519.0,252.6 526.0,253.6 533.0,255.6 540.0,258.4 547.0,261.0 554.0,263.6 561.0,265.6 568.0,266.4 575.0,267.0 582.0,267.6 589.0,268.6 596.0,269.6 603.0,270.6 610.0,272.0 617.0,274.4 624.0,276.4 631.0,278.4 638.0,280.4 647.0,282.4 654.0,284.4 661.0,286.0 668.0,287.0 675.0,287.4 682.0,288.0 689.0,289.6 696.0,291.0 703.0,292.4 710.0,293.6 717.0,295.0 724.0,296.0 731.0,297.0 738.0,297.4 745.0,298.4 752.0,299.6 758.0,300.4 758.0,309.0 342.0,309.0"/></clipPath></defs>
<g clip-path="url(#m2)">
<g clip-path="url(#pres)">
<rect x="342" y="230" width="23" height="80" fill="#ff6400" />
<rect x="365" y="230" width="19" height="80" fill="#ff6a08" />
<rect x="384" y="230" width="79" height="80" fill="#ff8e0c" />
<rect x="463" y="230" width="76" height="80" fill="#ffaa00" />
<rect x="539" y="230" width="21" height="80" fill="#ffd000" />
<rect x="560" y="230" width="49" height="80" fill="#ffff00" />
<rect x="609" y="230" width="28" height="80" fill="#c8ff14" />
<rect x="637" y="230" width="28" height="80" fill="#98ff08" />
<rect x="665" y="230" width="49" height="80" fill="#68fa14" />
<rect x="714" y="230" width="44" height="80" fill="#38f014" />
</g>
</g>
<line x1="342" y1="234.5" x2="757" y2="234.5" stroke="#000" stroke-width="1" stroke-dasharray="2,2"/>
<line x1="342" y1="252.5" x2="757" y2="252.5" stroke="#000" stroke-width="1" stroke-dasharray="2,2"/>
<line x1="342" y1="271.5" x2="757" y2="271.5" stroke="#000" stroke-width="1" stroke-dasharray="2,2"/>
<line x1="342" y1="290.5" x2="757" y2="290.5" stroke="#000" stroke-width="1" stroke-dasharray="2,2"/>
<line x1="356.5" y1="230" x2="356.5" y2="308" stroke="#000" stroke-width="1" stroke-dasharray="2,2"/>
<line x1="377.5" y1="230" x2="377.5" y2="308" stroke="#000" stroke-width="1" stroke-dasharray="2,2"/>
<line x1="398.5" y1="230" x2="398.5" y2="308" stroke="#000" stroke-width="1" stroke-dasharray="2,2"/>
<line x1="419.5" y1="230" x2="419.5" y2="308" stroke="#000" stroke-width="1" stroke-dasharray="2,2"/>
<line x1="440.5" y1="230" x2="440.5" y2="308" stroke="#000" stroke-width="1" stroke-dasharray="2,2"/>
<line x1="462.5" y1="230" x2="462.5" y2="308" stroke="#000" stroke-width="1" stroke-dasharray="2,2"/>
<line x1="483.5" y1="230" x2="483.5" y2="308" stroke="#000" stroke-width="1" stroke-dasharray="2,2"/>
<line x1="504.5" y1="230" x2="504.5" y2="308" stroke="#000" stroke-width="1" stroke-dasharray="2,2"/>
<line x1="525.5" y1="230" x2="525.5" y2="308" stroke="#000" stroke-width="1" stroke-dasharray="2,2"/>
<line x1="546.5" y1="230" x2="546.5" y2="308" stroke="#000" stroke-width="1" stroke-dasharray="2,2"/>
<line x1="567.5" y1="230" x2="567.5" y2="308" stroke="#000" stroke-width="1" stroke-dasharray="2,2"/>
<line x1="588.5" y1="230" x2="588.5" y2="308" stroke="#000" stroke-width="1" stroke-dasharray="2,2"/>
<line x1="609.5" y1="230" x2="609.5" y2="308" stroke="#000" stroke-width="1" stroke-dasharray="2,2"/>
<line x1="630.5" y1="230" x2="630.5" y2="308" stroke="#000" stroke-width="1" stroke-dasharray="2,2"/>
<line x1="651.5" y1="230" x2="651.5" y2="308" stroke="#000" stroke-width="1" stroke-dasharray="2,2"/>
<line x1="673.5" y1="230" x2="673.5" y2="308" stroke="#000" stroke-width="1" stroke-dasharray="2,2"/>
<line x1="694.5" y1="230" x2="694.5" y2="308" stroke="#000" stroke-width="1" stroke-dasharray="2,2"/>
<line x1="715.5" y1="230" x2="715.5" y2="308" stroke="#000" stroke-width="1" stroke-dasharray="2,2"/>
<line x1="736.5" y1="230" x2="736.5" y2="308" stroke="#000" stroke-width="1" stroke-dasharray="2,2"/>
<g clip-path="url(#m2)">
<polyline points="342.4,238.4 349.0,239.6 356.0,238.6 363.0,239.0 370.0,240.4 377.0,241.6 384.0,243.0 391.0,244.0 398.0,244.6 405.0,245.0 412.0,245.6 419.0,246.6 426.0,246.6 433.0,246.0 440.0,245.6 447.0,246.6 454.0,248.0 461.0,249.6 468.0,251.0 475.0,252.4 482.0,253.6 489.0,254.0 496.0,253.6 505.0,253.0 512.0,252.6 519.0,252.6 526.0,253.6 533.0,255.6 540.0,258.4 547.0,261.0 554.0,263.6 561.0,265.6 568.0,266.4 575.0,267.0 582.0,267.6 589.0,268.6 596.0,269.6 603.0,270.6 610.0,272.0 617.0,274.4 624.0,276.4 631.0,278.4 638.0,280.4 647.0,282.4 654.0,284.4 661.0,286.0 668.0,287.0 675.0,287.4 682.0,288.0 689.0,289.6 696.0,291.0 703.0,292.4 710.0,293.6 717.0,295.0 724.0,296.0 731.0,297.0 738.0,297.4 745.0,298.4 752.0,299.6 758.0,300.4" fill="none" stroke="#000" stroke-width="2.4" stroke-linejoin="round" />
</g>
<defs><clipPath id="wnd"><polygon points="342.4,389.6 349.0,387.6 356.0,385.6 363.0,385.0 370.0,385.6 377.0,386.4 384.0,388.0 391.0,391.0 398.0,393.6 405.0,392.0 412.0,390.6 419.0,388.0 426.0,387.6 433.0,386.6 440.0,389.0 447.0,386.4 454.0,388.4 461.0,387.0 468.0,387.6 475.0,387.6 482.0,387.6 489.0,387.6 496.0,386.4 505.0,384.6 512.0,383.4 519.0,381.0 526.0,378.0 533.0,376.6 540.0,376.4 547.0,376.4 554.0,377.0 561.0,378.0 568.0,380.6 575.0,381.6 582.0,381.6 589.0,378.6 596.0,377.0 603.0,375.6 610.0,375.6 617.0,375.0 624.0,374.4 631.0,375.0 638.0,374.4 647.0,374.0 654.0,372.4 661.0,371.6 668.0,371.0 675.0,371.0 680.0,371.0 688.0,367.0 695.0,365.6 702.0,364.4 709.0,364.4 716.0,365.6 723.0,368.0 730.0,371.0 737.0,372.6 744.0,372.0 751.0,371.6 758.0,371.6 758.0,396.0 342.0,396.0"/></clipPath></defs>
<g clip-path="url(#m3)">
<g clip-path="url(#wnd)">
<rect x="342" y="317" width="7" height="80" fill="#00ffff" />
<rect x="349" y="317" width="35" height="80" fill="#00c0ff" />
<rect x="384" y="317" width="43" height="80" fill="#00ffff" />
<rect x="427" y="317" width="6" height="80" fill="#00c0ff" />
<rect x="433" y="317" width="29" height="80" fill="#00ffff" />
<rect x="462" y="317" width="49" height="80" fill="#00c0ff" />
<rect x="511" y="317" width="14" height="80" fill="#1080ff" />
<rect x="525" y="317" width="42" height="80" fill="#084888" />
<rect x="567" y="317" width="21" height="80" fill="#1080ff" />
<rect x="588" y="317" width="14" height="80" fill="#084888" />
<rect x="602" y="317" width="57" height="80" fill="#007800" />
<rect x="659" y="317" width="28" height="80" fill="#10d010" />
<rect x="687" y="317" width="13" height="80" fill="#40f020" />
<rect x="700" y="317" width="8" height="80" fill="#70f850" />
<rect x="708" y="317" width="14" height="80" fill="#40f020" />
<rect x="722" y="317" width="14" height="80" fill="#10d010" />
<rect x="736" y="317" width="14" height="80" fill="#007800" />
<rect x="750" y="317" width="8" height="80" fill="#10d010" />
</g>
</g>
<line x1="342" y1="318.5" x2="757" y2="318.5" stroke="#000" stroke-width="1" stroke-dasharray="2,2"/>
<line x1="342" y1="337.5" x2="757" y2="337.5" stroke="#000" stroke-width="1" stroke-dasharray="2,2"/>
<line x1="342" y1="357.5" x2="757" y2="357.5" stroke="#000" stroke-width="1" stroke-dasharray="2,2"/>
<line x1="342" y1="376.5" x2="757" y2="376.5" stroke="#000" stroke-width="1" stroke-dasharray="2,2"/>
<line x1="356.5" y1="317" x2="356.5" y2="395" stroke="#000" stroke-width="1" stroke-dasharray="2,2"/>
<line x1="377.5" y1="317" x2="377.5" y2="395" stroke="#000" stroke-width="1" stroke-dasharray="2,2"/>
<line x1="398.5" y1="317" x2="398.5" y2="395" stroke="#000" stroke-width="1" stroke-dasharray="2,2"/>
<line x1="419.5" y1="317" x2="419.5" y2="395" stroke="#000" stroke-width="1" stroke-dasharray="2,2"/>
<line x1="440.5" y1="317" x2="440.5" y2="395" stroke="#000" stroke-width="1" stroke-dasharray="2,2"/>
<line x1="462.5" y1="317" x2="462.5" y2="395" stroke="#000" stroke-width="1" stroke-dasharray="2,2"/>
<line x1="483.5" y1="317" x2="483.5" y2="395" stroke="#000" stroke-width="1" stroke-dasharray="2,2"/>
<line x1="504.5" y1="317" x2="504.5" y2="395" stroke="#000" stroke-width="1" stroke-dasharray="2,2"/>
<line x1="525.5" y1="317" x2="525.5" y2="395" stroke="#000" stroke-width="1" stroke-dasharray="2,2"/>
<line x1="546.5" y1="317" x2="546.5" y2="395" stroke="#000" stroke-width="1" stroke-dasharray="2,2"/>
<line x1="567.5" y1="317" x2="567.5" y2="395" stroke="#000" stroke-width="1" stroke-dasharray="2,2"/>
<line x1="588.5" y1="317" x2="588.5" y2="395" stroke="#000" stroke-width="1" stroke-dasharray="2,2"/>
<line x1="609.5" y1="317" x2="609.5" y2="395" stroke="#000" stroke-width="1" stroke-dasharray="2,2"/>
<line x1="630.5" y1="317" x2="630.5" y2="395" stroke="#000" stroke-width="1" stroke-dasharray="2,2"/>
<line x1="651.5" y1="317" x2="651.5" y2="395" stroke="#000" stroke-width="1" stroke-dasharray="2,2"/>
<line x1="673.5" y1="317" x2="673.5" y2="395" stroke="#000" stroke-width="1" stroke-dasharray="2,2"/>
<line x1="694.5" y1="317" x2="694.5" y2="395" stroke="#000" stroke-width="1" stroke-dasharray="2,2"/>
<line x1="715.5" y1="317" x2="715.5" y2="395" stroke="#000" stroke-width="1" stroke-dasharray="2,2"/>
<line x1="736.5" y1="317" x2="736.5" y2="395" stroke="#000" stroke-width="1" stroke-dasharray="2,2"/>
<g clip-path="url(#m3)">
<polyline points="342.4,389.6 349.0,387.6 356.0,385.6 363.0,385.0 370.0,385.6 377.0,386.4 384.0,388.0 391.0,391.0 398.0,393.6 405.0,392.0 412.0,390.6 419.0,388.0 426.0,387.6 433.0,386.6 440.0,389.0 447.0,386.4 454.0,388.4 461.0,387.0 468.0,387.6 475.0,387.6 482.0,387.6 489.0,387.6 496.0,386.4 505.0,384.6 512.0,383.4 519.0,381.0 526.0,378.0 533.0,376.6 540.0,376.4 547.0,376.4 554.0,377.0 561.0,378.0 568.0,380.6 575.0,381.6 582.0,381.6 589.0,378.6 596.0,377.0 603.0,375.6 610.0,375.6 617.0,375.0 624.0,374.4 631.0,375.0 638.0,374.4 647.0,374.0 654.0,372.4 661.0,371.6 668.0,371.0 675.0,371.0 680.0,371.0 688.0,367.0 695.0,365.6 702.0,364.4 709.0,364.4 716.0,365.6 723.0,368.0 730.0,371.0 737.0,372.6 744.0,372.0 751.0,371.6 758.0,371.6" fill="none" stroke="#0a1496" stroke-width="2.4" stroke-linejoin="round" />
<line x1="342" y1="375.5" x2="350" y2="375.5" stroke="#ff0000" stroke-width="1.3" />
<line x1="350" y1="369.5" x2="357" y2="369.5" stroke="#ff0000" stroke-width="1.3" />
<line x1="357" y1="367.5" x2="364" y2="367.5" stroke="#ff0000" stroke-width="1.3" />
<line x1="364" y1="368.5" x2="378" y2="368.5" stroke="#ff0000" stroke-width="1.3" />
<line x1="378" y1="369.5" x2="385" y2="369.5" stroke="#ff0000" stroke-width="1.3" />
<line x1="385" y1="373.5" x2="392" y2="373.5" stroke="#ff0000" stroke-width="1.3" />
<line x1="392" y1="382.5" x2="398" y2="382.5" stroke="#ff0000" stroke-width="1.3" />
<line x1="398" y1="385.5" x2="406" y2="385.5" stroke="#ff0000" stroke-width="1.3" />
<line x1="406" y1="385.5" x2="413" y2="385.5" stroke="#ff0000" stroke-width="1.3" />
<line x1="413" y1="384.5" x2="420" y2="384.5" stroke="#ff0000" stroke-width="1.3" />
<line x1="420" y1="383.5" x2="427" y2="383.5" stroke="#ff0000" stroke-width="1.3" />
<line x1="427" y1="382.5" x2="434" y2="382.5" stroke="#ff0000" stroke-width="1.3" />
<line x1="434" y1="380.5" x2="442" y2="380.5" stroke="#ff0000" stroke-width="1.3" />
<line x1="442" y1="376.5" x2="456" y2="376.5" stroke="#ff0000" stroke-width="1.3" />
<line x1="456" y1="378.5" x2="463" y2="378.5" stroke="#ff0000" stroke-width="1.3" />
<line x1="463" y1="380.5" x2="470" y2="380.5" stroke="#ff0000" stroke-width="1.3" />
<line x1="470" y1="379.5" x2="478" y2="379.5" stroke="#ff0000" stroke-width="1.3" />
<line x1="478" y1="378.5" x2="484" y2="378.5" stroke="#ff0000" stroke-width="1.3" />
<line x1="484" y1="377.5" x2="492" y2="377.5" stroke="#ff0000" stroke-width="1.3" />
<line x1="492" y1="376.5" x2="499" y2="376.5" stroke="#ff0000" stroke-width="1.3" />
<line x1="499" y1="373.5" x2="505" y2="373.5" stroke="#ff0000" stroke-width="1.3" />
<line x1="505" y1="369.5" x2="512" y2="369.5" stroke="#ff0000" stroke-width="1.3" />
<line x1="512" y1="367.5" x2="519" y2="367.5" stroke="#ff0000" stroke-width="1.3" />
<line x1="519" y1="362.5" x2="526" y2="362.5" stroke="#ff0000" stroke-width="1.3" />
<line x1="526" y1="358.5" x2="533" y2="358.5" stroke="#ff0000" stroke-width="1.3" />
<line x1="533" y1="357.5" x2="561" y2="357.5" stroke="#ff0000" stroke-width="1.3" />
<line x1="561" y1="358.5" x2="568" y2="358.5" stroke="#ff0000" stroke-width="1.3" />
<line x1="568" y1="361.5" x2="575" y2="361.5" stroke="#ff0000" stroke-width="1.3" />
<line x1="575" y1="363.5" x2="582" y2="363.5" stroke="#ff0000" stroke-width="1.3" />
<line x1="582" y1="360.5" x2="589" y2="360.5" stroke="#ff0000" stroke-width="1.3" />
<line x1="589" y1="357.5" x2="596" y2="357.5" stroke="#ff0000" stroke-width="1.3" />
<line x1="596" y1="354.5" x2="610" y2="354.5" stroke="#ff0000" stroke-width="1.3" />
<line x1="610" y1="353.5" x2="617" y2="353.5" stroke="#ff0000" stroke-width="1.3" />
<line x1="617" y1="349.5" x2="631" y2="349.5" stroke="#ff0000" stroke-width="1.3" />
<line x1="631" y1="350.5" x2="645" y2="350.5" stroke="#ff0000" stroke-width="1.3" />
<line x1="645" y1="349.5" x2="652" y2="349.5" stroke="#ff0000" stroke-width="1.3" />
<line x1="652" y1="347.5" x2="659" y2="347.5" stroke="#ff0000" stroke-width="1.3" />
<line x1="659" y1="346.5" x2="667" y2="346.5" stroke="#ff0000" stroke-width="1.3" />
<line x1="667" y1="343.5" x2="674" y2="343.5" stroke="#ff0000" stroke-width="1.3" />
<line x1="674" y1="341.5" x2="681" y2="341.5" stroke="#ff0000" stroke-width="1.3" />
<line x1="681" y1="335.5" x2="688" y2="335.5" stroke="#ff0000" stroke-width="1.3" />
<line x1="688" y1="334.5" x2="695" y2="334.5" stroke="#ff0000" stroke-width="1.3" />
<line x1="695" y1="331.5" x2="702" y2="331.5" stroke="#ff0000" stroke-width="1.3" />
<line x1="702" y1="332.5" x2="715" y2="332.5" stroke="#ff0000" stroke-width="1.3" />
<line x1="715" y1="335.5" x2="722" y2="335.5" stroke="#ff0000" stroke-width="1.3" />
<line x1="722" y1="339.5" x2="730" y2="339.5" stroke="#ff0000" stroke-width="1.3" />
<line x1="730" y1="346.5" x2="737" y2="346.5" stroke="#ff0000" stroke-width="1.3" />
<line x1="737" y1="348.5" x2="744" y2="348.5" stroke="#ff0000" stroke-width="1.3" />
<line x1="744" y1="346.5" x2="758" y2="346.5" stroke="#ff0000" stroke-width="1.3" />
</g>
<line x1="356.5" y1="401" x2="356.5" y2="432" stroke="#000" stroke-width="1" stroke-dasharray="2,2"/>
<line x1="377.5" y1="401" x2="377.5" y2="432" stroke="#000" stroke-width="1" stroke-dasharray="2,2"/>
<line x1="398.5" y1="401" x2="398.5" y2="432" stroke="#000" stroke-width="1" stroke-dasharray="2,2"/>
<line x1="419.5" y1="401" x2="419.5" y2="432" stroke="#000" stroke-width="1" stroke-dasharray="2,2"/>
<line x1="440.5" y1="401" x2="440.5" y2="432" stroke="#000" stroke-width="1" stroke-dasharray="2,2"/>
<line x1="462.5" y1="401" x2="462.5" y2="432" stroke="#000" stroke-width="1" stroke-dasharray="2,2"/>
<line x1="483.5" y1="401" x2="483.5" y2="432" stroke="#000" stroke-width="1" stroke-dasharray="2,2"/>
<line x1="504.5" y1="401" x2="504.5" y2="432" stroke="#000" stroke-width="1" stroke-dasharray="2,2"/>
<line x1="525.5" y1="401" x2="525.5" y2="432" stroke="#000" stroke-width="1" stroke-dasharray="2,2"/>
<line x1="546.5" y1="401" x2="546.5" y2="432" stroke="#000" stroke-width="1" stroke-dasharray="2,2"/>
<line x1="567.5" y1="401" x2="567.5" y2="432" stroke="#000" stroke-width="1" stroke-dasharray="2,2"/>
<line x1="588.5" y1="401" x2="588.5" y2="432" stroke="#000" stroke-width="1" stroke-dasharray="2,2"/>
<line x1="609.5" y1="401" x2="609.5" y2="432" stroke="#000" stroke-width="1" stroke-dasharray="2,2"/>
<line x1="630.5" y1="401" x2="630.5" y2="432" stroke="#000" stroke-width="1" stroke-dasharray="2,2"/>
<line x1="651.5" y1="401" x2="651.5" y2="432" stroke="#000" stroke-width="1" stroke-dasharray="2,2"/>
<line x1="673.5" y1="401" x2="673.5" y2="432" stroke="#000" stroke-width="1" stroke-dasharray="2,2"/>
<line x1="694.5" y1="401" x2="694.5" y2="432" stroke="#000" stroke-width="1" stroke-dasharray="2,2"/>
<line x1="715.5" y1="401" x2="715.5" y2="432" stroke="#000" stroke-width="1" stroke-dasharray="2,2"/>
<line x1="736.5" y1="401" x2="736.5" y2="432" stroke="#000" stroke-width="1" stroke-dasharray="2,2"/>
<line x1="336.2" y1="413.8" x2="344.2" y2="417.4" stroke="#10109a" stroke-width="1.3" />
<polygon points="348.8,419.4 343.1,419.8 345.3,414.9" fill="#10109a" />
<line x1="343.4" y1="413.4" x2="351.2" y2="417.5" stroke="#10109a" stroke-width="1.3" />
<polygon points="355.6,419.8 349.9,419.9 352.5,415.1" fill="#10109a" />
<line x1="351.9" y1="411.6" x2="357.9" y2="418.0" stroke="#10109a" stroke-width="1.3" />
<polygon points="361.3,421.6 355.9,419.8 359.8,416.1" fill="#10109a" />
<line x1="358.8" y1="411.6" x2="364.9" y2="418.0" stroke="#10109a" stroke-width="1.3" />
<polygon points="368.4,421.6 363.0,419.8 366.9,416.1" fill="#10109a" />
<line x1="365.2" y1="412.4" x2="372.1" y2="417.8" stroke="#10109a" stroke-width="1.3" />
<polygon points="376.1,420.8 370.5,419.9 373.8,415.6" fill="#10109a" />
<line x1="372.9" y1="411.6" x2="379.0" y2="418.0" stroke="#10109a" stroke-width="1.3" />
<polygon points="382.5,421.6 377.0,419.8 380.9,416.1" fill="#10109a" />
<line x1="381.6" y1="410.5" x2="385.6" y2="418.3" stroke="#10109a" stroke-width="1.3" />
<polygon points="387.8,422.7 383.2,419.5 388.0,417.1" fill="#10109a" />
<line x1="390.8" y1="409.8" x2="392.0" y2="418.5" stroke="#10109a" stroke-width="1.3" />
<polygon points="392.7,423.4 389.3,418.9 394.7,418.1" fill="#10109a" />
<line x1="404.2" y1="412.4" x2="397.3" y2="417.8" stroke="#10109a" stroke-width="1.3" />
<polygon points="393.3,420.8 395.6,415.6 398.9,419.9" fill="#10109a" />
<line x1="412.7" y1="417.3" x2="403.9" y2="416.4" stroke="#10109a" stroke-width="1.3" />
<polygon points="398.9,415.9 404.2,413.7 403.6,419.1" fill="#10109a" />
<line x1="415.6" y1="422.9" x2="412.1" y2="414.9" stroke="#10109a" stroke-width="1.3" />
<polygon points="410.0,410.3 414.5,413.8 409.6,416.0" fill="#10109a" />
<line x1="421.3" y1="423.3" x2="419.5" y2="414.7" stroke="#10109a" stroke-width="1.3" />
<polygon points="418.4,409.9 422.1,414.2 416.8,415.3" fill="#10109a" />
<line x1="426.5" y1="423.5" x2="427.0" y2="414.7" stroke="#10109a" stroke-width="1.3" />
<polygon points="427.3,409.7 429.7,414.8 424.3,414.6" fill="#10109a" />
<line x1="433.2" y1="423.5" x2="434.1" y2="414.7" stroke="#10109a" stroke-width="1.3" />
<polygon points="434.7,409.7 436.8,415.0 431.5,414.4" fill="#10109a" />
<line x1="441.3" y1="423.5" x2="440.9" y2="414.7" stroke="#10109a" stroke-width="1.3" />
<polygon points="440.6,409.7 443.6,414.6 438.2,414.8" fill="#10109a" />
<line x1="446.9" y1="423.4" x2="448.3" y2="414.7" stroke="#10109a" stroke-width="1.3" />
<polygon points="449.1,409.8 451.0,415.1 445.6,414.3" fill="#10109a" />
<line x1="454.3" y1="423.5" x2="455.2" y2="414.7" stroke="#10109a" stroke-width="1.3" />
<polygon points="455.8,409.7 457.9,415.0 452.6,414.4" fill="#10109a" />
<line x1="464.4" y1="423.1" x2="461.4" y2="414.8" stroke="#10109a" stroke-width="1.3" />
<polygon points="459.7,410.1 464.0,413.9 458.9,415.7" fill="#10109a" />
<line x1="469.1" y1="423.5" x2="469.1" y2="414.7" stroke="#10109a" stroke-width="1.3" />
<polygon points="469.1,409.7 471.8,414.7 466.4,414.7" fill="#10109a" />
<line x1="478.0" y1="423.2" x2="475.6" y2="414.8" stroke="#10109a" stroke-width="1.3" />
<polygon points="474.2,410.0 478.2,414.0 473.0,415.5" fill="#10109a" />
<line x1="483.9" y1="423.5" x2="483.0" y2="414.7" stroke="#10109a" stroke-width="1.3" />
<polygon points="482.5,409.7 485.7,414.4 480.3,415.0" fill="#10109a" />
<line x1="491.3" y1="423.4" x2="489.9" y2="414.7" stroke="#10109a" stroke-width="1.3" />
<polygon points="489.1,409.8 492.6,414.3 487.3,415.1" fill="#10109a" />
<line x1="498.8" y1="423.3" x2="496.8" y2="414.7" stroke="#10109a" stroke-width="1.3" />
<polygon points="495.7,409.9 499.5,414.1 494.2,415.4" fill="#10109a" />
<line x1="504.5" y1="423.5" x2="504.2" y2="414.7" stroke="#10109a" stroke-width="1.3" />
<polygon points="504.0,409.7 506.9,414.6 501.5,414.8" fill="#10109a" />
<line x1="513.2" y1="423.2" x2="510.8" y2="414.8" stroke="#10109a" stroke-width="1.3" />
<polygon points="509.4,410.0 513.4,414.0 508.2,415.5" fill="#10109a" />
<line x1="520.8" y1="423.0" x2="517.7" y2="414.8" stroke="#10109a" stroke-width="1.3" />
<polygon points="515.9,410.2 520.2,413.9 515.1,415.8" fill="#10109a" />
<line x1="527.9" y1="423.0" x2="524.7" y2="414.8" stroke="#10109a" stroke-width="1.3" />
<polygon points="522.9,410.2 527.2,413.9 522.2,415.8" fill="#10109a" />
<line x1="535.3" y1="422.9" x2="531.6" y2="414.9" stroke="#10109a" stroke-width="1.3" />
<polygon points="529.5,410.3 534.1,413.7 529.2,416.0" fill="#10109a" />
<line x1="542.4" y1="422.9" x2="538.6" y2="414.9" stroke="#10109a" stroke-width="1.3" />
<polygon points="536.5,410.3 541.1,413.7 536.2,416.0" fill="#10109a" />
<line x1="549.4" y1="422.9" x2="545.7" y2="414.9" stroke="#10109a" stroke-width="1.3" />
<polygon points="543.6,410.3 548.1,413.7 543.2,416.0" fill="#10109a" />
<line x1="555.7" y1="423.2" x2="552.9" y2="414.8" stroke="#10109a" stroke-width="1.3" />
<polygon points="551.4,410.0 555.5,414.0 550.4,415.6" fill="#10109a" />
<line x1="562.7" y1="423.2" x2="560.0" y2="414.8" stroke="#10109a" stroke-width="1.3" />
<polygon points="558.4,410.0 562.5,414.0 557.4,415.6" fill="#10109a" />
<line x1="570.5" y1="422.9" x2="566.8" y2="414.9" stroke="#10109a" stroke-width="1.3" />
<polygon points="564.7,410.3 569.2,413.7 564.3,416.0" fill="#10109a" />
<line x1="578.3" y1="422.5" x2="573.6" y2="415.0" stroke="#10109a" stroke-width="1.3" />
<polygon points="571.0,410.7 575.9,413.6 571.3,416.4" fill="#10109a" />
<line x1="585.0" y1="422.6" x2="580.7" y2="414.9" stroke="#10109a" stroke-width="1.3" />
<polygon points="578.3,410.6 583.1,413.6 578.4,416.2" fill="#10109a" />
<line x1="592.3" y1="422.5" x2="587.7" y2="415.0" stroke="#10109a" stroke-width="1.3" />
<polygon points="585.0,410.7 590.0,413.6 585.4,416.4" fill="#10109a" />
<line x1="599.4" y1="422.5" x2="594.7" y2="415.0" stroke="#10109a" stroke-width="1.3" />
<polygon points="592.1,410.7 597.0,413.6 592.4,416.4" fill="#10109a" />
<line x1="606.3" y1="422.5" x2="601.8" y2="415.0" stroke="#10109a" stroke-width="1.3" />
<polygon points="599.2,410.7 604.1,413.6 599.5,416.4" fill="#10109a" />
<line x1="613.0" y1="422.7" x2="608.9" y2="414.9" stroke="#10109a" stroke-width="1.3" />
<polygon points="606.6,410.5 611.3,413.7 606.5,416.2" fill="#10109a" />
<line x1="619.6" y1="422.9" x2="616.1" y2="414.9" stroke="#10109a" stroke-width="1.3" />
<polygon points="614.0,410.3 618.5,413.8 613.6,416.0" fill="#10109a" />
<line x1="626.8" y1="422.9" x2="623.1" y2="414.9" stroke="#10109a" stroke-width="1.3" />
<polygon points="620.9,410.3 625.5,413.7 620.6,416.0" fill="#10109a" />
<line x1="633.4" y1="423.0" x2="630.2" y2="414.8" stroke="#10109a" stroke-width="1.3" />
<polygon points="628.4,410.2 632.7,413.9 627.7,415.8" fill="#10109a" />
<line x1="640.4" y1="423.0" x2="637.2" y2="414.8" stroke="#10109a" stroke-width="1.3" />
<polygon points="635.5,410.2 639.8,413.9 634.7,415.8" fill="#10109a" />
<line x1="647.4" y1="423.0" x2="644.3" y2="414.8" stroke="#10109a" stroke-width="1.3" />
<polygon points="642.5,410.2 646.8,413.9 641.8,415.8" fill="#10109a" />
<line x1="654.9" y1="422.9" x2="651.2" y2="414.9" stroke="#10109a" stroke-width="1.3" />
<polygon points="649.1,410.3 653.6,413.7 648.7,416.0" fill="#10109a" />
<line x1="662.4" y1="422.6" x2="658.1" y2="414.9" stroke="#10109a" stroke-width="1.3" />
<polygon points="655.7,410.6 660.5,413.6 655.7,416.2" fill="#10109a" />
<line x1="669.7" y1="422.5" x2="665.1" y2="415.0" stroke="#10109a" stroke-width="1.3" />
<polygon points="662.4,410.7 667.3,413.6 662.8,416.4" fill="#10109a" />
<line x1="676.0" y1="422.9" x2="672.3" y2="414.9" stroke="#10109a" stroke-width="1.3" />
<polygon points="670.2,410.3 674.7,413.7 669.8,416.0" fill="#10109a" />
<line x1="682.4" y1="423.1" x2="679.5" y2="414.8" stroke="#10109a" stroke-width="1.3" />
<polygon points="677.9,410.1 682.1,413.9 677.0,415.7" fill="#10109a" />
<line x1="689.8" y1="423.0" x2="686.5" y2="414.8" stroke="#10109a" stroke-width="1.3" />
<polygon points="684.6,410.2 689.0,413.8 684.0,415.8" fill="#10109a" />
<line x1="697.1" y1="422.9" x2="693.4" y2="414.9" stroke="#10109a" stroke-width="1.3" />
<polygon points="691.3,410.3 695.8,413.7 690.9,416.0" fill="#10109a" />
<line x1="703.7" y1="423.0" x2="700.6" y2="414.8" stroke="#10109a" stroke-width="1.3" />
<polygon points="698.8,410.2 703.1,413.9 698.0,415.8" fill="#10109a" />
<line x1="710.7" y1="423.0" x2="707.6" y2="414.8" stroke="#10109a" stroke-width="1.3" />
<polygon points="705.8,410.2 710.1,413.9 705.1,415.8" fill="#10109a" />
<line x1="717.7" y1="423.1" x2="714.7" y2="414.8" stroke="#10109a" stroke-width="1.3" />
<polygon points="712.9,410.1 717.2,413.9 712.1,415.7" fill="#10109a" />
<line x1="725.0" y1="423.0" x2="721.6" y2="414.9" stroke="#10109a" stroke-width="1.3" />
<polygon points="719.6,410.2 724.1,413.8 719.1,415.9" fill="#10109a" />
<line x1="732.6" y1="422.7" x2="728.5" y2="414.9" stroke="#10109a" stroke-width="1.3" />
<polygon points="726.1,410.5 730.9,413.7 726.1,416.2" fill="#10109a" />
<line x1="739.9" y1="422.6" x2="735.5" y2="415.0" stroke="#10109a" stroke-width="1.3" />
<polygon points="733.0,410.6 737.8,413.6 733.1,416.3" fill="#10109a" />
<line x1="747.5" y1="422.2" x2="742.3" y2="415.1" stroke="#10109a" stroke-width="1.3" />
<polygon points="739.4,411.0 744.5,413.5 740.1,416.6" fill="#10109a" />
<line x1="754.5" y1="422.2" x2="749.4" y2="415.1" stroke="#10109a" stroke-width="1.3" />
<polygon points="746.4,411.0 751.5,413.5 747.2,416.6" fill="#10109a" />
<line x1="761.2" y1="422.5" x2="756.5" y2="415.0" stroke="#10109a" stroke-width="1.3" />
<polygon points="753.8,410.7 758.8,413.6 754.2,416.4" fill="#10109a" />
<line x1="342" y1="457.5" x2="757" y2="457.5" stroke="#000" stroke-width="1" stroke-dasharray="2,2"/>
<line x1="342" y1="477.5" x2="757" y2="477.5" stroke="#000" stroke-width="1" stroke-dasharray="2,2"/>
<line x1="342" y1="496.5" x2="757" y2="496.5" stroke="#000" stroke-width="1" stroke-dasharray="2,2"/>
<line x1="356.5" y1="437" x2="356.5" y2="516" stroke="#000" stroke-width="1" stroke-dasharray="2,2"/>
<line x1="377.5" y1="437" x2="377.5" y2="516" stroke="#000" stroke-width="1" stroke-dasharray="2,2"/>
<line x1="398.5" y1="437" x2="398.5" y2="516" stroke="#000" stroke-width="1" stroke-dasharray="2,2"/>
<line x1="419.5" y1="437" x2="419.5" y2="516" stroke="#000" stroke-width="1" stroke-dasharray="2,2"/>
<line x1="440.5" y1="437" x2="440.5" y2="516" stroke="#000" stroke-width="1" stroke-dasharray="2,2"/>
<line x1="462.5" y1="437" x2="462.5" y2="516" stroke="#000" stroke-width="1" stroke-dasharray="2,2"/>
<line x1="483.5" y1="437" x2="483.5" y2="516" stroke="#000" stroke-width="1" stroke-dasharray="2,2"/>
<line x1="504.5" y1="437" x2="504.5" y2="516" stroke="#000" stroke-width="1" stroke-dasharray="2,2"/>
<line x1="525.5" y1="437" x2="525.5" y2="516" stroke="#000" stroke-width="1" stroke-dasharray="2,2"/>
<line x1="546.5" y1="437" x2="546.5" y2="516" stroke="#000" stroke-width="1" stroke-dasharray="2,2"/>
<line x1="567.5" y1="437" x2="567.5" y2="516" stroke="#000" stroke-width="1" stroke-dasharray="2,2"/>
<line x1="588.5" y1="437" x2="588.5" y2="516" stroke="#000" stroke-width="1" stroke-dasharray="2,2"/>
<line x1="609.5" y1="437" x2="609.5" y2="516" stroke="#000" stroke-width="1" stroke-dasharray="2,2"/>
<line x1="630.5" y1="437" x2="630.5" y2="516" stroke="#000" stroke-width="1" stroke-dasharray="2,2"/>
<line x1="651.5" y1="437" x2="651.5" y2="516" stroke="#000" stroke-width="1" stroke-dasharray="2,2"/>
<line x1="673.5" y1="437" x2="673.5" y2="516" stroke="#000" stroke-width="1" stroke-dasharray="2,2"/>
<line x1="694.5" y1="437" x2="694.5" y2="516" stroke="#000" stroke-width="1" stroke-dasharray="2,2"/>
<line x1="715.5" y1="437" x2="715.5" y2="516" stroke="#000" stroke-width="1" stroke-dasharray="2,2"/>
<line x1="736.5" y1="437" x2="736.5" y2="516" stroke="#000" stroke-width="1" stroke-dasharray="2,2"/>
<g clip-path="url(#m5)">
<circle cx="342.9" cy="477.3" r="2.8" fill="#b01c1c"/>
<circle cx="349.8" cy="478.3" r="2.8" fill="#b01c1c"/>
<circle cx="356.6" cy="478.8" r="2.8" fill="#b01c1c"/>
<circle cx="363.4" cy="477.8" r="2.8" fill="#b01c1c"/>
<circle cx="370.7" cy="479.3" r="2.8" fill="#b01c1c"/>
<circle cx="377.6" cy="479.3" r="2.8" fill="#b01c1c"/>
<circle cx="384.4" cy="479.3" r="2.8" fill="#b01c1c"/>
<circle cx="391.7" cy="480.2" r="2.8" fill="#b01c1c"/>
<circle cx="398.5" cy="480.2" r="2.8" fill="#b01c1c"/>
<circle cx="405.6" cy="480.7" r="2.8" fill="#b01c1c"/>
<circle cx="412.7" cy="479.3" r="2.8" fill="#b01c1c"/>
<circle cx="419.9" cy="479.8" r="2.8" fill="#b01c1c"/>
<circle cx="426.9" cy="479.8" r="2.8" fill="#b01c1c"/>
<circle cx="434" cy="479.8" r="2.8" fill="#b01c1c"/>
<circle cx="440.9" cy="479.8" r="2.8" fill="#b01c1c"/>
<circle cx="448" cy="480.2" r="2.8" fill="#b01c1c"/>
<circle cx="455" cy="480.2" r="2.8" fill="#b01c1c"/>
<circle cx="469.1" cy="482.7" r="2.8" fill="#b01c1c"/>
<circle cx="476" cy="447.1" r="2.8" fill="#b01c1c"/>
<circle cx="483.3" cy="447.1" r="2.8" fill="#b01c1c"/>
<circle cx="490.1" cy="447.1" r="2.8" fill="#b01c1c"/>
<circle cx="497.3" cy="447.1" r="2.8" fill="#b01c1c"/>
<circle cx="504.3" cy="447.1" r="2.8" fill="#b01c1c"/>
<circle cx="511.2" cy="447.9" r="2.8" fill="#b01c1c"/>
<circle cx="518.1" cy="449.5" r="2.8" fill="#b01c1c"/>
<circle cx="532.4" cy="447.9" r="2.8" fill="#b01c1c"/>
<circle cx="539.5" cy="447.1" r="2.8" fill="#b01c1c"/>
<circle cx="546.4" cy="447.1" r="2.8" fill="#b01c1c"/>
<circle cx="553.3" cy="447.1" r="2.8" fill="#b01c1c"/>
<circle cx="560.3" cy="489.9" r="2.8" fill="#b01c1c"/>
<circle cx="567.3" cy="490.7" r="2.8" fill="#b01c1c"/>
<circle cx="574.5" cy="447.1" r="2.8" fill="#b01c1c"/>
<circle cx="581.4" cy="447.1" r="2.8" fill="#b01c1c"/>
<circle cx="588.6" cy="492.5" r="2.8" fill="#b01c1c"/>
<circle cx="609.6" cy="447.1" r="2.8" fill="#b01c1c"/>
<circle cx="616.5" cy="447.1" r="2.8" fill="#b01c1c"/>
<circle cx="623.8" cy="447.1" r="2.8" fill="#b01c1c"/>
<circle cx="630.7" cy="445.5" r="2.8" fill="#b01c1c"/>
<circle cx="637.7" cy="443.8" r="2.8" fill="#b01c1c"/>
<circle cx="644.8" cy="443.8" r="2.8" fill="#b01c1c"/>
<circle cx="651.9" cy="445.5" r="2.8" fill="#b01c1c"/>
<circle cx="658.8" cy="445.5" r="2.8" fill="#b01c1c"/>
<circle cx="665.7" cy="445.5" r="2.8" fill="#b01c1c"/>
<circle cx="672.7" cy="445.5" r="2.8" fill="#b01c1c"/>
<circle cx="680" cy="445.5" r="2.8" fill="#b01c1c"/>
<circle cx="687" cy="445.5" r="2.8" fill="#b01c1c"/>
<circle cx="693.9" cy="445.5" r="2.8" fill="#b01c1c"/>
<circle cx="701.2" cy="445.5" r="2.8" fill="#b01c1c"/>
<circle cx="708.2" cy="445.5" r="2.8" fill="#b01c1c"/>
<circle cx="715.2" cy="445.5" r="2.8" fill="#b01c1c"/>
<circle cx="722.1" cy="445.5" r="2.8" fill="#b01c1c"/>
<circle cx="729.1" cy="445.5" r="2.8" fill="#b01c1c"/>
<circle cx="736.1" cy="445.5" r="2.8" fill="#b01c1c"/>
<circle cx="743.4" cy="445.5" r="2.8" fill="#b01c1c"/>
<circle cx="750.3" cy="445.5" r="2.8" fill="#b01c1c"/>
<circle cx="757" cy="445.5" r="2.8" fill="#b01c1c"/>
<circle cx="342.9" cy="512" r="2.8" fill="#ffffff"/>
<circle cx="349.8" cy="510" r="2.8" fill="#ffffff"/>
<circle cx="356.6" cy="503.7" r="2.8" fill="#ffffff"/>
<circle cx="363.4" cy="488.5" r="2.8" fill="#ffffff"/>
<circle cx="370.7" cy="490.5" r="2.8" fill="#ffffff"/>
<circle cx="377.6" cy="492.9" r="2.8" fill="#ffffff"/>
<circle cx="384.4" cy="491" r="2.8" fill="#ffffff"/>
<circle cx="391.7" cy="492.4" r="2.8" fill="#ffffff"/>
<circle cx="398.5" cy="492.4" r="2.8" fill="#ffffff"/>
<circle cx="405.6" cy="492.6" r="2.8" fill="#ffffff"/>
<circle cx="412.7" cy="493.4" r="2.8" fill="#ffffff"/>
<circle cx="419.9" cy="486.6" r="2.8" fill="#ffffff"/>
<circle cx="426.9" cy="486.6" r="2.8" fill="#ffffff"/>
<circle cx="434" cy="487.6" r="2.8" fill="#ffffff"/>
<circle cx="440.9" cy="486.6" r="2.8" fill="#ffffff"/>
<circle cx="448" cy="488.5" r="2.8" fill="#ffffff"/>
<circle cx="455" cy="508.5" r="2.8" fill="#ffffff"/>
<circle cx="469.1" cy="511" r="2.8" fill="#ffffff"/>
<circle cx="511.2" cy="509.3" r="2.8" fill="#ffffff"/>
<circle cx="518.1" cy="453.8" r="2.8" fill="#ffffff"/>
<circle cx="525.2" cy="453.8" r="2.8" fill="#ffffff"/>
<circle cx="532.4" cy="493.5" r="2.8" fill="#ffffff"/>
<circle cx="539.5" cy="493.8" r="2.8" fill="#ffffff"/>
<circle cx="546.4" cy="493.8" r="2.8" fill="#ffffff"/>
<circle cx="553.3" cy="494.4" r="2.8" fill="#ffffff"/>
<circle cx="560.3" cy="495" r="2.8" fill="#ffffff"/>
<circle cx="567.3" cy="495.5" r="2.8" fill="#ffffff"/>
<circle cx="574.5" cy="496" r="2.8" fill="#ffffff"/>
<circle cx="588.6" cy="496.2" r="2.8" fill="#ffffff"/>
<circle cx="595.3" cy="450.4" r="2.8" fill="#ffffff"/>
<circle cx="602.6" cy="450.4" r="2.8" fill="#ffffff"/>
<circle cx="609.6" cy="450.4" r="2.8" fill="#ffffff"/>
<circle cx="616.5" cy="450.4" r="2.8" fill="#ffffff"/>
<circle cx="623.8" cy="450.4" r="2.8" fill="#ffffff"/>
<circle cx="630.7" cy="450.4" r="2.8" fill="#ffffff"/>
<circle cx="637.7" cy="450.4" r="2.8" fill="#ffffff"/>
<circle cx="644.8" cy="450.4" r="2.8" fill="#ffffff"/>
<circle cx="651.9" cy="450.4" r="2.8" fill="#ffffff"/>
<circle cx="658.8" cy="450.4" r="2.8" fill="#ffffff"/>
<circle cx="665.7" cy="450.4" r="2.8" fill="#ffffff"/>
<circle cx="672.7" cy="450.4" r="2.8" fill="#ffffff"/>
<circle cx="680" cy="503.5" r="2.8" fill="#ffffff"/>
<circle cx="687" cy="502.2" r="2.8" fill="#ffffff"/>
<circle cx="693.9" cy="500.8" r="2.8" fill="#ffffff"/>
<circle cx="701.2" cy="499.2" r="2.8" fill="#ffffff"/>
<circle cx="708.2" cy="448.3" r="2.8" fill="#ffffff"/>
<circle cx="715.2" cy="495.6" r="2.8" fill="#ffffff"/>
<circle cx="722.1" cy="494.4" r="2.8" fill="#ffffff"/>
<circle cx="729.1" cy="490.7" r="2.8" fill="#ffffff"/>
<circle cx="736.1" cy="491.3" r="2.8" fill="#ffffff"/>
<circle cx="743.4" cy="490.1" r="2.8" fill="#ffffff"/>
<circle cx="750.3" cy="491.9" r="2.8" fill="#ffffff"/>
<circle cx="757" cy="491.3" r="2.8" fill="#ffffff"/>
<circle cx="342.9" cy="509" r="2.8" fill="#cccccc"/>
<circle cx="349.8" cy="505.1" r="2.8" fill="#cccccc"/>
<circle cx="356.6" cy="483.7" r="2.8" fill="#cccccc"/>
<circle cx="377.6" cy="488" r="2.8" fill="#cccccc"/>
<circle cx="391.7" cy="490" r="2.8" fill="#cccccc"/>
<circle cx="398.5" cy="487" r="2.8" fill="#cccccc"/>
<circle cx="455" cy="485.6" r="2.8" fill="#cccccc"/>
<circle cx="461.8" cy="482.7" r="2.8" fill="#cccccc"/>
<circle cx="461.8" cy="509" r="2.8" fill="#cccccc"/>
<circle cx="511.2" cy="451.6" r="2.8" fill="#cccccc"/>
<circle cx="567.3" cy="493.8" r="2.8" fill="#cccccc"/>
<circle cx="581.4" cy="493.8" r="2.8" fill="#cccccc"/>
<circle cx="588.6" cy="494.4" r="2.8" fill="#cccccc"/>
<circle cx="722.1" cy="449.5" r="2.8" fill="#cccccc"/>
<circle cx="729.1" cy="448.3" r="2.8" fill="#cccccc"/>
<circle cx="736.1" cy="487.1" r="2.8" fill="#cccccc"/>
<circle cx="750.3" cy="487.6" r="2.8" fill="#cccccc"/>
<circle cx="391.7" cy="486.6" r="2.8" fill="#9a9a9a"/>
<circle cx="412.7" cy="481.7" r="2.8" fill="#9a9a9a"/>
<circle cx="504.3" cy="509.5" r="2.8" fill="#9a9a9a"/>
<circle cx="539.5" cy="491.1" r="2.8" fill="#9a9a9a"/>
<circle cx="553.3" cy="491.6" r="2.8" fill="#9a9a9a"/>
<circle cx="560.3" cy="492.5" r="2.8" fill="#9a9a9a"/>
<circle cx="736.1" cy="450.7" r="2.8" fill="#9a9a9a"/>
<circle cx="743.4" cy="487.1" r="2.8" fill="#9a9a9a"/>
<circle cx="750.3" cy="453.2" r="2.8" fill="#9a9a9a"/>
<circle cx="757" cy="486.4" r="2.8" fill="#9a9a9a"/>
<circle cx="370.7" cy="481.7" r="2.8" fill="#5a5a5a"/>
<circle cx="377.6" cy="482.2" r="2.8" fill="#5a5a5a"/>
<circle cx="384.4" cy="482.2" r="2.8" fill="#5a5a5a"/>
<circle cx="426.9" cy="482.2" r="2.8" fill="#5a5a5a"/>
<circle cx="434" cy="482.2" r="2.8" fill="#5a5a5a"/>
<circle cx="448" cy="483.7" r="2.8" fill="#5a5a5a"/>
<circle cx="455" cy="483.7" r="2.8" fill="#5a5a5a"/>
<circle cx="497.3" cy="508.9" r="2.8" fill="#5a5a5a"/>
<circle cx="546.4" cy="490.7" r="2.8" fill="#5a5a5a"/>
<circle cx="757" cy="449.5" r="2.8" fill="#5a5a5a"/>
<circle cx="342.9" cy="479.8" r="2.8" fill="#000000"/>
<circle cx="349.8" cy="481.2" r="2.8" fill="#000000"/>
<circle cx="363.4" cy="481.2" r="2.8" fill="#000000"/>
<circle cx="419.9" cy="481.7" r="2.8" fill="#000000"/>
<circle cx="440.9" cy="482.2" r="2.8" fill="#000000"/>
<circle cx="469.1" cy="509" r="2.8" fill="#000000"/>
<circle cx="476" cy="510" r="2.8" fill="#000000"/>
<circle cx="483.3" cy="511" r="2.8" fill="#000000"/>
<circle cx="490.1" cy="511" r="2.8" fill="#000000"/>
<polyline points="342.4,455.0 349.0,454.4 356.0,452.4 363.0,451.0 370.0,449.6 377.0,448.0 384.0,447.6 391.0,449.0 398.0,452.4 405.0,455.0 412.0,456.4 419.0,457.6 426.0,460.0 433.0,460.0 440.0,462.0 447.0,463.0 454.0,471.6 461.8,473.9 463.8,479.8 468.2,509.0 473.5,513.9 483.3,513.9 490.0,513.8 497.3,511.3 499.7,496.2 503.9,476.8 511.2,460.4 525.2,451.9 532.4,449.5 545.8,451.1 560.3,451.9 570.0,454.0 588.0,456.8 758.0,456.5" fill="none" stroke="#ff9c00" stroke-width="2.2" stroke-linejoin="round" />
</g>
<g clip-path="url(#m6)">
<polygon points="342.5,574.9 349.3,573.7 356.1,584.9 363.6,553.8 369.8,565.0 377.3,571.2 384.7,556.0 392.2,582.4 398.4,587.4 405.8,594.8 413.3,586.7 420.0,583.6 426.8,582.4 441.1,547.0 447.9,561.3 456.0,582.4 464.7,594.8 468.4,601.0 469.0,604.0 342.0,604.0" fill="#555555" />
<polygon points="525.0,604.0 527.3,601.0 532.2,593.6 546.5,556.3 554.0,576.2 560.2,573.1 567.0,588.6 573.7,597.3 579.9,596.7 587.4,598.5 593.6,602.3 595.0,604.0" fill="#555555" />
<polygon points="468.0,604.0 472.1,593.6 478.4,570.0 485.8,563.1 489.5,563.8 493.3,576.2 496.0,585.0 500.0,595.0 503.0,604.0" fill="#363636" />
<polygon points="342.5,596.0 348.7,604.0 342.5,604.0" fill="#303030" />
<polygon points="490.0,604.0 492.5,581.1 499.9,578.7 508.6,578.7 513.0,581.1 518.6,591.1 524.8,598.5 527.3,604.0" fill="#ffffff" />
<polygon points="590.0,604.0 593.6,602.3 602.3,599.2 608.5,598.3 617.2,596.0 627.1,596.7 637.0,595.4 645.0,591.1 653.0,588.5 668.5,590.7 684.0,591.3 700.0,594.0 708.0,588.0 715.0,586.0 729.0,576.0 733.0,568.0 736.0,559.0 740.0,557.0 749.5,556.5 757.5,546.5 758.0,604.0" fill="#ffffff" />
<polygon points="729.0,604.0 743.0,586.0 746.0,585.0 750.5,574.0 754.5,581.0 758.0,580.0 758.0,604.0" fill="#9a9a9a" />
<polygon points="729.0,604.0 743.0,586.0 746.0,585.0 750.0,587.0 754.5,583.0 758.0,581.0 758.0,604.0" fill="#555555" />
</g>
<line x1="342" y1="545.5" x2="757" y2="545.5" stroke="#000" stroke-width="1" stroke-dasharray="2,2"/>
<line x1="342" y1="564.5" x2="757" y2="564.5" stroke="#000" stroke-width="1" stroke-dasharray="2,2"/>
<line x1="342" y1="584.5" x2="757" y2="584.5" stroke="#000" stroke-width="1" stroke-dasharray="2,2"/>
<line x1="356.5" y1="525" x2="356.5" y2="603" stroke="#000" stroke-width="1" stroke-dasharray="2,2"/>
<line x1="377.5" y1="525" x2="377.5" y2="603" stroke="#000" stroke-width="1" stroke-dasharray="2,2"/>
<line x1="398.5" y1="525" x2="398.5" y2="603" stroke="#000" stroke-width="1" stroke-dasharray="2,2"/>
<line x1="419.5" y1="525" x2="419.5" y2="603" stroke="#000" stroke-width="1" stroke-dasharray="2,2"/>
<line x1="440.5" y1="525" x2="440.5" y2="603" stroke="#000" stroke-width="1" stroke-dasharray="2,2"/>
<line x1="462.5" y1="525" x2="462.5" y2="603" stroke="#000" stroke-width="1" stroke-dasharray="2,2"/>
<line x1="483.5" y1="525" x2="483.5" y2="603" stroke="#000" stroke-width="1" stroke-dasharray="2,2"/>
<line x1="504.5" y1="525" x2="504.5" y2="603" stroke="#000" stroke-width="1" stroke-dasharray="2,2"/>
<line x1="525.5" y1="525" x2="525.5" y2="603" stroke="#000" stroke-width="1" stroke-dasharray="2,2"/>
<line x1="546.5" y1="525" x2="546.5" y2="603" stroke="#000" stroke-width="1" stroke-dasharray="2,2"/>
<line x1="567.5" y1="525" x2="567.5" y2="603" stroke="#000" stroke-width="1" stroke-dasharray="2,2"/>
<line x1="588.5" y1="525" x2="588.5" y2="603" stroke="#000" stroke-width="1" stroke-dasharray="2,2"/>
<line x1="609.5" y1="525" x2="609.5" y2="603" stroke="#000" stroke-width="1" stroke-dasharray="2,2"/>
<line x1="630.5" y1="525" x2="630.5" y2="603" stroke="#000" stroke-width="1" stroke-dasharray="2,2"/>
<line x1="651.5" y1="525" x2="651.5" y2="603" stroke="#000" stroke-width="1" stroke-dasharray="2,2"/>
<line x1="673.5" y1="525" x2="673.5" y2="603" stroke="#000" stroke-width="1" stroke-dasharray="2,2"/>
<line x1="694.5" y1="525" x2="694.5" y2="603" stroke="#000" stroke-width="1" stroke-dasharray="2,2"/>
<line x1="715.5" y1="525" x2="715.5" y2="603" stroke="#000" stroke-width="1" stroke-dasharray="2,2"/>
<line x1="736.5" y1="525" x2="736.5" y2="603" stroke="#000" stroke-width="1" stroke-dasharray="2,2"/>
<g clip-path="url(#m6)">
<polyline points="464.7,602.3 470.9,598.5 477.1,591.1 484.6,584.9 492.5,581.1" fill="none" stroke="#ffffff" stroke-width="1.1" stroke-linejoin="round" />
<polyline points="527.0,600.5 540.0,599.2 555.0,598.6 567.0,600.0 580.0,601.0 592.0,602.0" fill="none" stroke="#e0e0e0" stroke-width="1.4" stroke-linejoin="round" />
<polyline points="378.5,602.5 389.7,602.5" fill="none" stroke="#ffffff" stroke-width="1.2" stroke-linejoin="round" />
<polyline points="342.0,602.8 352.0,602.8" fill="none" stroke="#dddddd" stroke-width="1" stroke-linejoin="round" />
<polyline points="737.0,602.0 744.0,588.0 746.0,585.0" fill="none" stroke="#bbbbbb" stroke-width="0.8" stroke-linejoin="round" />
<rect x="454.0" y="589.2" width="2.8" height="14.8" rx="1.2" fill="#ffb400"/>
<rect x="461.1" y="577.4" width="2.8" height="26.6" rx="1.2" fill="#ffb400"/>
<line x1="462.5" y1="578.9" x2="462.5" y2="604" stroke="#000" stroke-width="1" stroke-dasharray="1,2.5" opacity="0.8"/>
<rect x="468.0" y="547.0" width="2.8" height="57.0" rx="1.2" fill="#ffb400"/>
<rect x="474.8" y="534.6" width="2.8" height="69.4" rx="1.2" fill="#ffb400"/>
<rect x="481.9" y="534.6" width="2.8" height="69.4" rx="1.2" fill="#ffb400"/>
<line x1="483.3" y1="536.1" x2="483.3" y2="604" stroke="#000" stroke-width="1" stroke-dasharray="1,2.5" opacity="0.8"/>
<rect x="489.0" y="542.6" width="2.8" height="61.4" rx="1.2" fill="#ffb400"/>
<rect x="496.1" y="544.5" width="2.8" height="59.5" rx="1.2" fill="#ffb400"/>
<rect x="503.3" y="568.1" width="2.8" height="35.9" rx="1.2" fill="#ffb400"/>
<line x1="504.7" y1="569.6" x2="504.7" y2="604" stroke="#000" stroke-width="1" stroke-dasharray="1,2.5" opacity="0.8"/>
</g>
<rect x="342.5" y="57.5" width="415" height="78" fill="none" stroke="#000" stroke-width="1"/>
<line x1="342" y1="56.5" x2="758" y2="56.5" stroke="#666" stroke-width="1" />
<rect x="342.5" y="143.5" width="415" height="78" fill="none" stroke="#000" stroke-width="1"/>
<line x1="342" y1="142.5" x2="758" y2="142.5" stroke="#666" stroke-width="1" />
<rect x="342.5" y="230.5" width="415" height="78" fill="none" stroke="#000" stroke-width="1"/>
<line x1="342" y1="229.5" x2="758" y2="229.5" stroke="#666" stroke-width="1" />
<rect x="342.5" y="317.5" width="415" height="78" fill="none" stroke="#000" stroke-width="1"/>
<line x1="342" y1="316.5" x2="758" y2="316.5" stroke="#666" stroke-width="1" />
<rect x="342.5" y="401.5" width="415" height="31" fill="none" stroke="#000" stroke-width="1"/>
<line x1="342" y1="400.5" x2="758" y2="400.5" stroke="#666" stroke-width="1" />
<rect x="342.5" y="437.5" width="415" height="79" fill="none" stroke="#000" stroke-width="1"/>
<line x1="342" y1="436.5" x2="758" y2="436.5" stroke="#666" stroke-width="1" />
<rect x="342.5" y="525.5" width="415" height="78" fill="none" stroke="#000" stroke-width="1"/>
<line x1="342" y1="524.5" x2="758" y2="524.5" stroke="#666" stroke-width="1" />
<line x1="343" y1="221.5" x2="757" y2="221.5" stroke="#1a7a1a" stroke-width="1" stroke-dasharray="2,2" stroke-dashoffset="1"/>
<line x1="343" y1="516.5" x2="757" y2="516.5" stroke="#4a7aa0" stroke-width="1" stroke-dasharray="2,2" stroke-dashoffset="1"/>
<defs><clipPath id="hdr"><rect x="280" y="0" width="540" height="30"/></clipPath></defs>
<g clip-path="url(#hdr)">
<text x="278" y="13" font-size="12" fill="#10109c" text-anchor="start" textLength="155.2" lengthAdjust="spacingAndGlyphs" >wschód słońca: 07:12 CEST</text>
</g>
<text x="279.7" y="26" font-size="12" fill="#10109c" text-anchor="start" textLength="151.4" lengthAdjust="spacingAndGlyphs" >zachód słońca: 17:28 CEST</text>
<text x="490" y="13" font-size="12" fill="#10109c" text-anchor="start" textLength="120.5" lengthAdjust="spacingAndGlyphs" >21°17'56"E, 54°2'23"N</text>
<text x="510" y="24" font-size="12" fill="#10109c" text-anchor="start" textLength="81" lengthAdjust="spacingAndGlyphs" >(x=254,  y=354)</text>
<text x="659" y="13" font-size="12" fill="#10109c" text-anchor="start" textLength="158" lengthAdjust="spacingAndGlyphs" >wysokość (min, środek, max)</text>
<text x="693.2" y="25.5" font-size="12" fill="#10109c" text-anchor="start" textLength="89" lengthAdjust="spacingAndGlyphs" >80 - 120 - 182 m</text>
<text x="349.7" y="41.8" font-size="12.5" fill="#000" text-anchor="start" textLength="55" lengthAdjust="spacingAndGlyphs" >nie, 19.10</text>
<text x="516.5" y="41.8" font-size="12.5" fill="#000" text-anchor="start" textLength="59.7" lengthAdjust="spacingAndGlyphs" >pon, 20.10</text>
<text x="684.6" y="41.8" font-size="12.5" fill="#000" text-anchor="start" textLength="59.8" lengthAdjust="spacingAndGlyphs" >wto, 21.10</text>
<text x="302.7" y="54.7" font-size="12.5" fill="#000" text-anchor="start" textLength="32.8" lengthAdjust="spacingAndGlyphs" >CEST</text>
<text x="764.4" y="54.7" font-size="12.5" fill="#000" text-anchor="start" textLength="33.2" lengthAdjust="spacingAndGlyphs" >CEST</text>
<text x="356.868" y="54.7" font-size="12.5" fill="#000" text-anchor="middle" >11</text>
<text x="399.072" y="54.7" font-size="12.5" fill="#000" text-anchor="middle" >17</text>
<text x="441.276" y="54.7" font-size="12.5" fill="#000" text-anchor="middle" >23</text>
<text x="483.48" y="54.7" font-size="12.5" fill="#000" text-anchor="middle" >05</text>
<text x="525.684" y="54.7" font-size="12.5" fill="#000" text-anchor="middle" >11</text>
<text x="567.8879999999999" y="54.7" font-size="12.5" fill="#000" text-anchor="middle" >17</text>
<text x="610.0919999999999" y="54.7" font-size="12.5" fill="#000" text-anchor="middle" >23</text>
<text x="652.2959999999999" y="54.7" font-size="12.5" fill="#000" text-anchor="middle" >05</text>
<text x="694.5" y="54.7" font-size="12.5" fill="#000" text-anchor="middle" >11</text>
<text x="736.704" y="54.7" font-size="12.5" fill="#000" text-anchor="middle" >17</text>
<text x="356.868" y="617" font-size="12.5" fill="#000" text-anchor="middle" >09</text>
<text x="399.072" y="617" font-size="12.5" fill="#000" text-anchor="middle" >15</text>
<text x="441.276" y="617" font-size="12.5" fill="#000" text-anchor="middle" >21</text>
<text x="483.48" y="617" font-size="12.5" fill="#000" text-anchor="middle" >03</text>
<text x="525.684" y="617" font-size="12.5" fill="#000" text-anchor="middle" >09</text>
<text x="567.8879999999999" y="617" font-size="12.5" fill="#000" text-anchor="middle" >15</text>
<text x="610.0919999999999" y="617" font-size="12.5" fill="#000" text-anchor="middle" >21</text>
<text x="652.2959999999999" y="617" font-size="12.5" fill="#000" text-anchor="middle" >03</text>
<text x="694.5" y="617" font-size="12.5" fill="#000" text-anchor="middle" >09</text>
<text x="736.704" y="617" font-size="12.5" fill="#000" text-anchor="middle" >15</text>
<text x="307.6" y="617" font-size="12.5" fill="#000" text-anchor="start" textLength="21" lengthAdjust="spacingAndGlyphs" >UTC</text>
<text x="769.5" y="617" font-size="12.5" fill="#000" text-anchor="start" textLength="23" lengthAdjust="spacingAndGlyphs" >UTC</text>
<text x="377.5" y="630" font-size="12.5" fill="#000" text-anchor="middle" >19.10</text>
<text x="545.5" y="630" font-size="12.5" fill="#000" text-anchor="middle" >20.10</text>
<text x="713.5" y="630" font-size="12.5" fill="#000" text-anchor="middle" >21.10</text>
<text x="300.8" y="652.8" font-size="13" fill="#1a1ab0" text-anchor="start" textLength="107.3" lengthAdjust="spacingAndGlyphs" >meteo@icm.edu.pl</text>
<text x="553" y="653.6" font-size="13" fill="#10109c" text-anchor="start" textLength="252.5" lengthAdjust="spacingAndGlyphs" >© 2007-2025 ICM, Uniwersytet Warszawski</text>
<text x="337" y="66.4" font-size="10.8" fill="#000" text-anchor="end" >10</text>
<text x="770.5" y="66.4" font-size="10.8" fill="#000" text-anchor="middle" >10</text>
<text x="337" y="89.4" font-size="10.8" fill="#000" text-anchor="end" >5</text>
<text x="770.5" y="89.4" font-size="10.8" fill="#000" text-anchor="middle" >5</text>
<text x="337" y="112.4" font-size="10.8" fill="#000" text-anchor="end" >0</text>
<text x="770.5" y="112.4" font-size="10.8" fill="#000" text-anchor="middle" >0</text>
<text x="337" y="134.9" font-size="10.8" fill="#000" text-anchor="end" >-5</text>
<text x="770.5" y="134.9" font-size="10.8" fill="#000" text-anchor="middle" >-5</text>
<text x="337" y="150.4" font-size="10.8" fill="#000" text-anchor="end" >5</text>
<text x="770" y="150.4" font-size="10.8" fill="#e8501e" text-anchor="middle" >100</text>
<text x="337" y="165.4" font-size="10.8" fill="#000" text-anchor="end" >4</text>
<text x="770" y="165.4" font-size="10.8" fill="#e8501e" text-anchor="middle" >90</text>
<text x="337" y="180.4" font-size="10.8" fill="#000" text-anchor="end" >3</text>
<text x="770" y="180.4" font-size="10.8" fill="#e8501e" text-anchor="middle" >80</text>
<text x="337" y="195.4" font-size="10.8" fill="#000" text-anchor="end" >2</text>
<text x="770" y="195.4" font-size="10.8" fill="#e8501e" text-anchor="middle" >70</text>
<text x="337" y="210.4" font-size="10.8" fill="#000" text-anchor="end" >1</text>
<text x="770" y="210.4" font-size="10.8" fill="#e8501e" text-anchor="middle" >60</text>
<text x="337" y="225.4" font-size="10.8" fill="#000" text-anchor="end" >0</text>
<text x="770" y="225.4" font-size="10.8" fill="#e8501e" text-anchor="middle" >50</text>
<text x="337" y="238.4" font-size="10.8" fill="#000" text-anchor="end" >1025</text>
<text x="770.5" y="238.4" font-size="10.8" fill="#000" text-anchor="middle" >769</text>
<text x="337" y="256.4" font-size="10.8" fill="#000" text-anchor="end" >1020</text>
<text x="770.5" y="256.4" font-size="10.8" fill="#000" text-anchor="middle" >765</text>
<text x="337" y="275.4" font-size="10.8" fill="#000" text-anchor="end" >1015</text>
<text x="770.5" y="275.4" font-size="10.8" fill="#000" text-anchor="middle" >761</text>
<text x="337" y="294.4" font-size="10.8" fill="#000" text-anchor="end" >1010</text>
<text x="770.5" y="294.4" font-size="10.8" fill="#000" text-anchor="middle" >758</text>
<text x="337" y="312.4" font-size="10.8" fill="#000" text-anchor="end" >1005</text>
<text x="770.5" y="312.4" font-size="10.8" fill="#000" text-anchor="middle" >754</text>
<text x="337" y="322.4" font-size="10.8" fill="#000" text-anchor="end" >20</text>
<text x="767.5" y="322.4" font-size="10.8" fill="#000" text-anchor="middle" >72</text>
<text x="337" y="341.4" font-size="10.8" fill="#000" text-anchor="end" >15</text>
<text x="767.5" y="341.4" font-size="10.8" fill="#000" text-anchor="middle" >54</text>
<text x="337" y="360.9" font-size="10.8" fill="#000" text-anchor="end" >10</text>
<text x="767.5" y="360.9" font-size="10.8" fill="#000" text-anchor="middle" >36</text>
<text x="337" y="380.4" font-size="10.8" fill="#000" text-anchor="end" >5</text>
<text x="767.5" y="380.4" font-size="10.8" fill="#000" text-anchor="middle" >18</text>
<text x="337" y="398.9" font-size="10.8" fill="#000" text-anchor="end" >0</text>
<text x="767.5" y="398.9" font-size="10.8" fill="#000" text-anchor="middle" >0</text>
<text x="337" y="442.4" font-size="10.8" fill="#000" text-anchor="end" >15.0</text>
<text x="762" y="442.4" font-size="10.8" fill="#ff8c00" text-anchor="start" >100</text>
<text x="337" y="461.4" font-size="10.8" fill="#000" text-anchor="end" >7.0</text>
<text x="762" y="461.4" font-size="10.8" fill="#ff8c00" text-anchor="start" >20</text>
<text x="337" y="480.9" font-size="10.8" fill="#000" text-anchor="end" >2.0</text>
<text x="762" y="480.9" font-size="10.8" fill="#ff8c00" text-anchor="start" >5</text>
<text x="337" y="500.4" font-size="10.8" fill="#000" text-anchor="end" >0.5</text>
<text x="762" y="500.4" font-size="10.8" fill="#ff8c00" text-anchor="start" >1</text>
<text x="337" y="519.9" font-size="10.8" fill="#000" text-anchor="end" >0.0</text>
<text x="762" y="519.9" font-size="10.8" fill="#ff8c00" text-anchor="start" >0</text>
<text x="337" y="529.9" font-size="10.8" fill="#000" text-anchor="end" >8</text>
<text x="762" y="529.9" font-size="10.8" fill="#ff8c00" text-anchor="start" >1</text>
<text x="337" y="549.4" font-size="10.8" fill="#000" text-anchor="end" >6</text>
<text x="762" y="549.4" font-size="10.8" fill="#ff8c00" text-anchor="start" >0.75</text>
<text x="337" y="568.9" font-size="10.8" fill="#000" text-anchor="end" >4</text>
<text x="762" y="568.9" font-size="10.8" fill="#ff8c00" text-anchor="start" >0.5</text>
<text x="337" y="588.4" font-size="10.8" fill="#000" text-anchor="end" >2</text>
<text x="762" y="588.4" font-size="10.8" fill="#ff8c00" text-anchor="start" >0.25</text>
<text x="337" y="605.9" font-size="10.8" fill="#000" text-anchor="end" >0</text>
<text x="762" y="605.9" font-size="10.8" fill="#ff8c00" text-anchor="start" >0</text>
<text transform="translate(292.9,96.6) rotate(-90)" font-size="12.5" fill="#10109c" text-anchor="middle" textLength="66.3" lengthAdjust="spacingAndGlyphs">temperatura</text>
<text transform="translate(305.4,96.7) rotate(-90)" font-size="12.5" fill="#10109c" text-anchor="middle" textLength="21" lengthAdjust="spacingAndGlyphs">(°C)</text>
<text transform="translate(292.9,185.8) rotate(-90)" font-size="12.5" fill="#10109c" text-anchor="middle" textLength="25.4" lengthAdjust="spacingAndGlyphs">opad</text>
<text transform="translate(305.4,183.2) rotate(-90)" font-size="12.5" fill="#10109c" text-anchor="middle" textLength="82.2" lengthAdjust="spacingAndGlyphs">(mm/h, kg/m²/h)</text>
<text transform="translate(292.9,272.5) rotate(-90)" font-size="12.5" fill="#10109c" text-anchor="middle" textLength="50.5" lengthAdjust="spacingAndGlyphs">ciśnienie</text>
<text transform="translate(305.4,273.8) rotate(-90)" font-size="12.5" fill="#10109c" text-anchor="middle" textLength="27.1" lengthAdjust="spacingAndGlyphs">(hPa)</text>
<text transform="translate(292.9,360.1) rotate(-90)" font-size="12.5" fill="#10109c" text-anchor="middle" textLength="27.2" lengthAdjust="spacingAndGlyphs">wiatr</text>
<text transform="translate(305.4,361.2) rotate(-90)" font-size="12.5" fill="#10109c" text-anchor="middle" textLength="29.5" lengthAdjust="spacingAndGlyphs">(m/s)</text>
<text transform="translate(292.9,476) rotate(-90)" font-size="12.5" fill="#10109c" text-anchor="middle" textLength="104.3" lengthAdjust="spacingAndGlyphs">pion. rozciągł. chm.</text>
<text transform="translate(305.4,474.1) rotate(-90)" font-size="12.5" fill="#10109c" text-anchor="middle" textLength="25.2" lengthAdjust="spacingAndGlyphs">(km)</text>
<text transform="translate(292.9,572.2) rotate(-90)" font-size="12.5" fill="#10109c" text-anchor="middle" textLength="76.6" lengthAdjust="spacingAndGlyphs">zachmurzenie</text>
<text transform="translate(305.4,566.4) rotate(-90)" font-size="12.5" fill="#10109c" text-anchor="middle" textLength="54.9" lengthAdjust="spacingAndGlyphs">(oktanty)</text>
<text transform="translate(803.6,96.6) rotate(-90)" font-size="12.5" fill="#10109c" text-anchor="middle" textLength="20.9" lengthAdjust="spacingAndGlyphs">(°C)</text>
<text transform="translate(815.9,96.4) rotate(-90)" font-size="12.5" fill="#10109c" text-anchor="middle" textLength="66.9" lengthAdjust="spacingAndGlyphs">temperatura</text>
<text transform="translate(803.6,194.2) rotate(-90)" font-size="12.5" fill="#10109c" text-anchor="middle" textLength="23.9" lengthAdjust="spacingAndGlyphs">(%)</text>
<text transform="translate(815.9,190.6) rotate(-90)" font-size="12.5" fill="#10109c" text-anchor="middle" textLength="83.3" lengthAdjust="spacingAndGlyphs">wilgotność wzgl.</text>
<text transform="translate(803.6,271.9) rotate(-90)" font-size="12.5" fill="#10109c" text-anchor="middle" textLength="49.2" lengthAdjust="spacingAndGlyphs">(mm Hg)</text>
<text transform="translate(815.9,273.9) rotate(-90)" font-size="12.5" fill="#10109c" text-anchor="middle" textLength="49.2" lengthAdjust="spacingAndGlyphs">ciśnienie</text>
<text transform="translate(803.6,359.3) rotate(-90)" font-size="12.5" fill="#10109c" text-anchor="middle" textLength="33.9" lengthAdjust="spacingAndGlyphs">(km/h)</text>
<text transform="translate(815.9,360.5) rotate(-90)" font-size="12.5" fill="#10109c" text-anchor="middle" textLength="26.8" lengthAdjust="spacingAndGlyphs">wiatr</text>
<text transform="translate(803.6,476.8) rotate(-90)" font-size="12.5" fill="#10109c" text-anchor="middle" textLength="24.5" lengthAdjust="spacingAndGlyphs">(km)</text>
<text transform="translate(815.9,473.2) rotate(-90)" font-size="12.5" fill="#10109c" text-anchor="middle" textLength="59.7" lengthAdjust="spacingAndGlyphs">widzialność</text>
<text transform="translate(803.6,562.4) rotate(-90)" font-size="12.5" fill="#10109c" text-anchor="middle" textLength="45.8" lengthAdjust="spacingAndGlyphs">(frakcja)</text>
<text transform="translate(815.9,561.3) rotate(-90)" font-size="12.5" fill="#10109c" text-anchor="middle" textLength="24.5" lengthAdjust="spacingAndGlyphs">mgła</text>
<text x="294.6" y="411.6" font-size="12.2" fill="#10109c" text-anchor="start" textLength="7.6" lengthAdjust="spacingAndGlyphs" >N</text>
<text x="283.6" y="419.9" font-size="12.2" fill="#10109c" text-anchor="start" textLength="12" lengthAdjust="spacingAndGlyphs" >W</text>
<text x="301.8" y="419.7" font-size="12.2" fill="#10109c" text-anchor="start" textLength="6.6" lengthAdjust="spacingAndGlyphs" >E</text>
<text x="294.6" y="428" font-size="12.2" fill="#10109c" text-anchor="start" textLength="6.8" lengthAdjust="spacingAndGlyphs" >S</text>
<text x="804.1" y="411.6" font-size="12.2" fill="#10109c" text-anchor="start" textLength="7.6" lengthAdjust="spacingAndGlyphs" >N</text>
<text x="793.1" y="419.9" font-size="12.2" fill="#10109c" text-anchor="start" textLength="12" lengthAdjust="spacingAndGlyphs" >W</text>
<text x="811.3" y="419.7" font-size="12.2" fill="#10109c" text-anchor="start" textLength="6.6" lengthAdjust="spacingAndGlyphs" >E</text>
<text x="804.1" y="428" font-size="12.2" fill="#10109c" text-anchor="start" textLength="6.8" lengthAdjust="spacingAndGlyphs" >S</text>
<g clip-path="url(#l0)">
<polygon points="135.9,88.3 149.0,92.4 163.7,100.5 178.3,104.9 192.9,106.3 207.6,107.8 222.2,109.3 232.4,111.5 244.9,106.3 244.9,114.2 238.3,117.9 232.4,120.8 226.6,117.9 219.3,117.9 212.0,117.1 206.1,116.4 198.8,116.4 192.9,115.7 185.6,115.7 178.3,114.9 171.0,113.5 163.7,111.3 156.3,107.6 149.0,104.0 142.4,101.8 135.9,101.0" fill="#fde6dc" />
<polygon points="135.9,118.8 171.0,118.8 191.5,123.2 212.0,126.1 232.4,129.0 245.6,129.8 245.6,134.9 135.9,134.9" fill="#7cc0ee" />
<polygon points="135.9,111.5 171.0,117.3 191.5,123.2 212.0,126.1 232.4,129.0 245.6,129.8 245.6,134.9 135.9,134.9" fill="#78bce8" opacity="0.0"/>
<polygon points="135.9,99.4 142.4,100.4 149.0,102.8 156.3,104.5 163.7,106.7 171.0,108.2 178.3,109.7 185.6,110.4 191.5,111.1 198.8,113.3 206.1,114.5 212.0,114.5 217.8,112.6 225.1,116.2 232.4,118.4 238.3,114.1 244.9,111.9 244.9,121.9 238.3,124.1 232.4,128.4 225.1,126.2 217.8,122.6 212.0,124.5 206.1,124.5 198.8,123.3 191.5,121.1 185.6,120.4 178.3,119.7 171.0,118.2 163.7,116.7 156.3,114.5 149.0,112.8 142.4,110.4 135.9,109.4" fill="#b4e2ff" />
</g>
<line x1="135" y1="59.5" x2="245" y2="59.5" stroke="#000" stroke-width="1" stroke-dasharray="2,2"/>
<line x1="135" y1="77.5" x2="245" y2="77.5" stroke="#000" stroke-width="1" stroke-dasharray="2,2"/>
<line x1="135" y1="94.5" x2="245" y2="94.5" stroke="#000" stroke-width="1" stroke-dasharray="2,2"/>
<line x1="135" y1="111.5" x2="245" y2="111.5" stroke="#000" stroke-width="1" stroke-dasharray="2,2"/>
<line x1="135" y1="129.5" x2="245" y2="129.5" stroke="#000" stroke-width="1" stroke-dasharray="2,2"/>
<line x1="143.5" y1="57" x2="143.5" y2="134" stroke="#000" stroke-width="1" stroke-dasharray="2,2"/>
<line x1="164.5" y1="57" x2="164.5" y2="134" stroke="#000" stroke-width="1" stroke-dasharray="2,2"/>
<line x1="185.5" y1="57" x2="185.5" y2="134" stroke="#000" stroke-width="1" stroke-dasharray="2,2"/>
<line x1="205.5" y1="57" x2="205.5" y2="134" stroke="#000" stroke-width="1" stroke-dasharray="2,2"/>
<line x1="226.5" y1="57" x2="226.5" y2="134" stroke="#000" stroke-width="1" stroke-dasharray="2,2"/>
<g clip-path="url(#l0)">
<polyline points="135.9,99.0 142.4,99.8 149.0,102.0 156.3,105.6 163.7,109.3 171.0,111.5 178.3,112.9 185.6,113.7 192.9,113.7 198.8,114.4 206.1,114.4 212.0,115.1 219.3,115.9 226.6,115.9 232.4,118.8 238.3,115.9 244.9,112.2" fill="none" stroke="#ff0000" stroke-width="2.4" stroke-linejoin="round" />
<polyline points="135.9,103.4 142.4,104.4 149.0,106.8 156.3,108.5 163.7,110.7 171.0,112.2 178.3,113.7 185.6,114.4 191.5,115.1 198.8,117.3 206.1,118.5 212.0,118.5 217.8,116.6 225.1,120.2 232.4,122.4 238.3,118.1 244.9,115.9" fill="none" stroke="#0000ff" stroke-width="2.4" stroke-linejoin="round" />
<circle cx="142.4" cy="113.7" r="1.8" fill="#6a5acd"/>
<circle cx="149.0" cy="113.7" r="1.8" fill="#6a5acd"/>
<circle cx="156.3" cy="113.7" r="1.8" fill="#6a5acd"/>
<circle cx="163.7" cy="113.7" r="1.8" fill="#6a5acd"/>
<circle cx="170.2" cy="114.4" r="1.8" fill="#6a5acd"/>
<circle cx="177.6" cy="114.4" r="1.8" fill="#6a5acd"/>
<circle cx="184.9" cy="114.4" r="1.8" fill="#6a5acd"/>
<circle cx="191.5" cy="117.3" r="1.8" fill="#6a5acd"/>
<circle cx="198.8" cy="117.3" r="1.8" fill="#6a5acd"/>
<circle cx="206.1" cy="118.8" r="1.8" fill="#6a5acd"/>
<circle cx="212.0" cy="118.8" r="1.8" fill="#6a5acd"/>
<circle cx="219.3" cy="120.2" r="1.8" fill="#6a5acd"/>
<circle cx="226.6" cy="120.2" r="1.8" fill="#6a5acd"/>
<circle cx="232.4" cy="121.7" r="1.8" fill="#6a5acd"/>
<circle cx="239.8" cy="118.8" r="1.8" fill="#6a5acd"/>
<line x1="142.5" y1="70.5" x2="142.5" y2="85.1" stroke="#9a1414" stroke-width="1.15" />
<line x1="149.5" y1="77.8" x2="149.5" y2="84.4" stroke="#9a1414" stroke-width="1.15" />
<line x1="156.5" y1="87.3" x2="156.5" y2="99.0" stroke="#9a1414" stroke-width="1.15" />
<line x1="163.5" y1="96.1" x2="163.5" y2="107.1" stroke="#9a1414" stroke-width="1.15" />
<line x1="170.5" y1="101.2" x2="170.5" y2="114.4" stroke="#9a1414" stroke-width="1.15" />
<line x1="177.5" y1="103.4" x2="177.5" y2="118.8" stroke="#9a1414" stroke-width="1.15" />
<line x1="184.5" y1="105.6" x2="184.5" y2="120.2" stroke="#9a1414" stroke-width="1.15" />
<line x1="191.5" y1="107.8" x2="191.5" y2="123.2" stroke="#9a1414" stroke-width="1.15" />
<line x1="198.5" y1="108.5" x2="198.5" y2="125.4" stroke="#9a1414" stroke-width="1.15" />
<line x1="205.5" y1="110.0" x2="205.5" y2="126.8" stroke="#9a1414" stroke-width="1.15" />
<line x1="212.5" y1="109.3" x2="212.5" y2="129.8" stroke="#9a1414" stroke-width="1.15" />
<line x1="219.5" y1="110.0" x2="219.5" y2="130.5" stroke="#9a1414" stroke-width="1.15" />
<line x1="226.5" y1="110.7" x2="226.5" y2="132.0" stroke="#9a1414" stroke-width="1.15" />
<line x1="233.5" y1="111.5" x2="233.5" y2="132.7" stroke="#9a1414" stroke-width="1.15" />
<line x1="240.5" y1="106.3" x2="240.5" y2="120.2" stroke="#9a1414" stroke-width="1.15" />
</g>
<g clip-path="url(#l1)">
<rect x="136" y="187.0" width="7" height="34.0" fill="#109a10" />
<rect x="143" y="181.2" width="6" height="39.8" fill="#109a10" />
<rect x="149" y="179.3" width="8" height="41.7" fill="#109a10" />
<rect x="157" y="201.7" width="7" height="19.3" fill="#109a10" />
<rect x="164" y="208.0" width="6" height="13.0" fill="#109a10" />
<rect x="170" y="217.8" width="7" height="3.2" fill="#109a10" />
<rect x="157.1" y="181.9" width="6.9" height="19.8" fill="#1030d0" />
<rect x="164.0" y="205.3" width="5.6" height="2.6" fill="#1030d0" />
</g>
<line x1="135" y1="151.5" x2="245" y2="151.5" stroke="#000" stroke-width="1" stroke-dasharray="2,2"/>
<line x1="135" y1="168.5" x2="245" y2="168.5" stroke="#000" stroke-width="1" stroke-dasharray="2,2"/>
<line x1="135" y1="186.5" x2="245" y2="186.5" stroke="#000" stroke-width="1" stroke-dasharray="2,2"/>
<line x1="135" y1="203.5" x2="245" y2="203.5" stroke="#000" stroke-width="1" stroke-dasharray="2,2"/>
<line x1="143.5" y1="143" x2="143.5" y2="220" stroke="#000" stroke-width="1" stroke-dasharray="2,2"/>
<line x1="164.5" y1="143" x2="164.5" y2="220" stroke="#000" stroke-width="1" stroke-dasharray="2,2"/>
<line x1="185.5" y1="143" x2="185.5" y2="220" stroke="#000" stroke-width="1" stroke-dasharray="2,2"/>
<line x1="205.5" y1="143" x2="205.5" y2="220" stroke="#000" stroke-width="1" stroke-dasharray="2,2"/>
<line x1="226.5" y1="143" x2="226.5" y2="220" stroke="#000" stroke-width="1" stroke-dasharray="2,2"/>
<g clip-path="url(#l1)">
<line x1="139.5" y1="165.1" x2="139.5" y2="187.0" stroke="#22c022" stroke-width="1.2" />
<line x1="146.4" y1="147.1" x2="146.4" y2="181.2" stroke="#22c022" stroke-width="1.2" />
<line x1="153.4" y1="147.1" x2="153.4" y2="179.3" stroke="#22c022" stroke-width="1.2" />
<rect x="144.9" y="145.6" width="3" height="3" fill="#ff1010" />
<rect x="151.9" y="145.6" width="3" height="3" fill="#ff1010" />
<polyline points="135.6,172.8 139.5,170.2 143.5,168.7 146.4,164.3 149.0,160.0 153.4,156.7 159.3,154.4 165.1,152.9 173.9,152.6 184.4,152.6 190.0,149.4 197.3,149.0 204.6,154.1 209.8,155.9 213.4,155.6 219.3,151.9 225.1,149.4 232.4,151.2 239.0,155.6 245.6,164.3" fill="none" stroke="#e8501e" stroke-width="2.4" stroke-linejoin="round" />
<circle cx="139.5" cy="173.1" r="2.3" fill="#ffe000" stroke="#303030" stroke-width="0.8"/>
<circle cx="146.4" cy="173.1" r="2.3" fill="#ffa000" stroke="#303030" stroke-width="0.8"/>
<circle cx="153.4" cy="173.1" r="2.3" fill="#ff1010" stroke="#303030" stroke-width="0.8"/>
<line x1="138.0" y1="219.2" x2="141.0" y2="219.2" stroke="#ff2020" stroke-width="1.2" />
<line x1="145.4" y1="219.2" x2="148.3" y2="219.2" stroke="#ff2020" stroke-width="1.2" />
<line x1="152.7" y1="219.2" x2="155.6" y2="219.2" stroke="#ff2020" stroke-width="1.2" />
<line x1="160.0" y1="219.2" x2="162.9" y2="219.2" stroke="#ff2020" stroke-width="1.2" />
</g>
<g clip-path="url(#l2)">
<polygon points="135.6,261.4 143.4,260.0 151.2,254.1 158.0,249.3 163.9,249.3 170.7,245.0 178.5,248.3 184.4,249.3 192.2,253.6 203.9,253.6 225.4,253.6 235.1,258.0 244.9,265.3 246.0,307.0 135.0,307.0" fill="#ffff00" />
<defs><clipPath id="lpres"><polygon points="135.6,261.4 143.4,260.0 151.2,254.1 158.0,249.3 163.9,249.3 170.7,245.0 178.5,248.3 184.4,249.3 192.2,253.6 203.9,253.6 225.4,253.6 235.1,258.0 244.9,265.3 246.0,307.0 135.0,307.0"/></clipPath></defs>
<g clip-path="url(#lpres)">
<rect x="164.9" y="229" width="5.4" height="78" fill="#ffcc00" />
</g>
</g>
<line x1="135" y1="230.5" x2="245" y2="230.5" stroke="#000" stroke-width="1" stroke-dasharray="2,2"/>
<line x1="135" y1="254.5" x2="245" y2="254.5" stroke="#000" stroke-width="1" stroke-dasharray="2,2"/>
<line x1="135" y1="278.5" x2="245" y2="278.5" stroke="#000" stroke-width="1" stroke-dasharray="2,2"/>
<line x1="135" y1="301.5" x2="245" y2="301.5" stroke="#000" stroke-width="1" stroke-dasharray="2,2"/>
<line x1="143.5" y1="229" x2="143.5" y2="306" stroke="#000" stroke-width="1" stroke-dasharray="2,2"/>
<line x1="164.5" y1="229" x2="164.5" y2="306" stroke="#000" stroke-width="1" stroke-dasharray="2,2"/>
<line x1="185.5" y1="229" x2="185.5" y2="306" stroke="#000" stroke-width="1" stroke-dasharray="2,2"/>
<line x1="205.5" y1="229" x2="205.5" y2="306" stroke="#000" stroke-width="1" stroke-dasharray="2,2"/>
<line x1="226.5" y1="229" x2="226.5" y2="306" stroke="#000" stroke-width="1" stroke-dasharray="2,2"/>
<g clip-path="url(#l2)">
<polyline points="135.6,261.4 143.4,260.0 151.2,254.1 158.0,249.3 163.9,249.3 170.7,245.0 178.5,248.3 184.4,249.3 192.2,253.6 203.9,253.6 225.4,253.6 235.1,258.0 244.9,265.3" fill="none" stroke="#000" stroke-width="2.4" stroke-linejoin="round" />
</g>
<g clip-path="url(#l3)">
<defs><clipPath id="lwnd"><polygon points="135.8,365.1 143.6,368.1 151.5,371.0 159.4,372.0 167.3,374.0 177.1,375.0 185.0,374.4 196.8,373.0 208.7,373.0 224.4,373.0 234.3,370.4 245.5,369.0 246.0,393.0 135.0,393.0"/></clipPath></defs>
<g clip-path="url(#lwnd)">
<rect x="136" y="315" width="12" height="78" fill="#10c810" />
<rect x="148" y="315" width="21" height="78" fill="#087808" />
<rect x="169" y="315" width="28" height="78" fill="#0a4a8c" />
<rect x="197" y="315" width="14" height="78" fill="#087808" />
<rect x="211" y="315" width="14" height="78" fill="#0a4a8c" />
<rect x="225" y="315" width="14" height="78" fill="#087808" />
<rect x="239" y="315" width="7" height="78" fill="#10c810" />
</g>
</g>
<line x1="135" y1="315.5" x2="245" y2="315.5" stroke="#000" stroke-width="1" stroke-dasharray="2,2"/>
<line x1="135" y1="334.5" x2="245" y2="334.5" stroke="#000" stroke-width="1" stroke-dasharray="2,2"/>
<line x1="135" y1="354.5" x2="245" y2="354.5" stroke="#000" stroke-width="1" stroke-dasharray="2,2"/>
<line x1="135" y1="373.5" x2="245" y2="373.5" stroke="#000" stroke-width="1" stroke-dasharray="2,2"/>
<line x1="143.5" y1="315" x2="143.5" y2="392" stroke="#000" stroke-width="1" stroke-dasharray="2,2"/>
<line x1="164.5" y1="315" x2="164.5" y2="392" stroke="#000" stroke-width="1" stroke-dasharray="2,2"/>
<line x1="185.5" y1="315" x2="185.5" y2="392" stroke="#000" stroke-width="1" stroke-dasharray="2,2"/>
<line x1="205.5" y1="315" x2="205.5" y2="392" stroke="#000" stroke-width="1" stroke-dasharray="2,2"/>
<line x1="226.5" y1="315" x2="226.5" y2="392" stroke="#000" stroke-width="1" stroke-dasharray="2,2"/>
<g clip-path="url(#l3)">
<polyline points="135.8,365.1 143.6,368.1 151.5,371.0 159.4,372.0 167.3,374.0 177.1,375.0 185.0,374.4 196.8,373.0 208.7,373.0 224.4,373.0 234.3,370.4 245.5,369.0" fill="none" stroke="#0a1496" stroke-width="2.4" stroke-linejoin="round" />
<line x1="138.7" y1="340.5" x2="148.6" y2="340.5" stroke="#ff1010" stroke-width="1.2" />
<line x1="148.6" y1="347.4" x2="161.4" y2="347.4" stroke="#ff1010" stroke-width="1.2" />
<line x1="162.4" y1="351.3" x2="169.3" y2="351.3" stroke="#ff1010" stroke-width="1.2" />
<line x1="170.2" y1="355.2" x2="177.1" y2="355.2" stroke="#ff1010" stroke-width="1.2" />
<line x1="177.1" y1="358.2" x2="184.0" y2="358.2" stroke="#ff1010" stroke-width="1.2" />
<line x1="190.0" y1="351.3" x2="197.8" y2="351.3" stroke="#ff1010" stroke-width="1.2" />
<line x1="197.8" y1="350.3" x2="210.6" y2="350.3" stroke="#ff1010" stroke-width="1.2" />
<line x1="211.6" y1="351.3" x2="225.4" y2="351.3" stroke="#ff1010" stroke-width="1.2" />
<line x1="225.4" y1="347.4" x2="232.3" y2="347.4" stroke="#ff1010" stroke-width="1.2" />
<line x1="232.3" y1="342.4" x2="245.1" y2="342.4" stroke="#ff1010" stroke-width="1.2" />
</g>
<line x1="143.5" y1="398" x2="143.5" y2="430" stroke="#000" stroke-width="1" stroke-dasharray="2,2"/>
<line x1="164.5" y1="398" x2="164.5" y2="430" stroke="#000" stroke-width="1" stroke-dasharray="2,2"/>
<line x1="185.5" y1="398" x2="185.5" y2="430" stroke="#000" stroke-width="1" stroke-dasharray="2,2"/>
<line x1="205.5" y1="398" x2="205.5" y2="430" stroke="#000" stroke-width="1" stroke-dasharray="2,2"/>
<line x1="226.5" y1="398" x2="226.5" y2="430" stroke="#000" stroke-width="1" stroke-dasharray="2,2"/>
<line x1="139.5" y1="406.2" x2="143.8" y2="417.4" stroke="#0c0c90" stroke-width="1.4" />
<polygon points="145.9,423.0 140.8,418.5 146.7,416.3" fill="#0c0c90" />
<line x1="146.4" y1="406.2" x2="150.7" y2="417.4" stroke="#0c0c90" stroke-width="1.4" />
<polygon points="152.8,423.0 147.7,418.5 153.6,416.3" fill="#0c0c90" />
<line x1="153.3" y1="406.2" x2="157.6" y2="417.4" stroke="#0c0c90" stroke-width="1.4" />
<polygon points="159.7,423.0 154.6,418.5 160.5,416.3" fill="#0c0c90" />
<line x1="160.2" y1="406.2" x2="164.5" y2="417.4" stroke="#0c0c90" stroke-width="1.4" />
<polygon points="166.6,423.0 161.5,418.5 167.4,416.3" fill="#0c0c90" />
<line x1="167.1" y1="406.2" x2="171.4" y2="417.4" stroke="#0c0c90" stroke-width="1.4" />
<polygon points="173.5,423.0 168.4,418.5 174.3,416.3" fill="#0c0c90" />
<line x1="174.0" y1="406.2" x2="178.3" y2="417.4" stroke="#0c0c90" stroke-width="1.4" />
<polygon points="180.4,423.0 175.3,418.5 181.2,416.3" fill="#0c0c90" />
<line x1="180.9" y1="406.2" x2="185.2" y2="417.4" stroke="#0c0c90" stroke-width="1.4" />
<polygon points="187.3,423.0 182.2,418.5 188.1,416.3" fill="#0c0c90" />
<line x1="187.8" y1="406.2" x2="192.1" y2="417.4" stroke="#0c0c90" stroke-width="1.4" />
<polygon points="194.2,423.0 189.1,418.5 195.0,416.3" fill="#0c0c90" />
<line x1="194.7" y1="406.2" x2="199.0" y2="417.4" stroke="#0c0c90" stroke-width="1.4" />
<polygon points="201.1,423.0 196.0,418.5 201.9,416.3" fill="#0c0c90" />
<line x1="201.6" y1="406.2" x2="205.9" y2="417.4" stroke="#0c0c90" stroke-width="1.4" />
<polygon points="208.0,423.0 202.9,418.5 208.8,416.3" fill="#0c0c90" />
<line x1="208.5" y1="406.2" x2="212.8" y2="417.4" stroke="#0c0c90" stroke-width="1.4" />
<polygon points="214.9,423.0 209.8,418.5 215.7,416.3" fill="#0c0c90" />
<line x1="215.4" y1="406.2" x2="219.7" y2="417.4" stroke="#0c0c90" stroke-width="1.4" />
<polygon points="221.8,423.0 216.7,418.5 222.6,416.3" fill="#0c0c90" />
<line x1="222.3" y1="406.2" x2="226.6" y2="417.4" stroke="#0c0c90" stroke-width="1.4" />
<polygon points="228.7,423.0 223.6,418.5 229.5,416.3" fill="#0c0c90" />
<line x1="229.2" y1="406.2" x2="233.5" y2="417.4" stroke="#0c0c90" stroke-width="1.4" />
<polygon points="235.6,423.0 230.5,418.5 236.4,416.3" fill="#0c0c90" />
<line x1="236.1" y1="406.2" x2="240.4" y2="417.4" stroke="#0c0c90" stroke-width="1.4" />
<polygon points="242.5,423.0 237.4,418.5 243.3,416.3" fill="#0c0c90" />
<line x1="243.0" y1="406.2" x2="247.3" y2="417.4" stroke="#0c0c90" stroke-width="1.4" />
<polygon points="249.4,423.0 244.3,418.5 250.2,416.3" fill="#0c0c90" />
<line x1="133.3" y1="414.8" x2="138.0" y2="416.5" stroke="#10109a" stroke-width="1.3" />
<polygon points="142.7,418.2 137.1,419.0 138.9,414.0" fill="#10109a" />
<line x1="135" y1="456.5" x2="245" y2="456.5" stroke="#000" stroke-width="1" stroke-dasharray="2,2"/>
<line x1="135" y1="475.5" x2="245" y2="475.5" stroke="#000" stroke-width="1" stroke-dasharray="2,2"/>
<line x1="135" y1="495.5" x2="245" y2="495.5" stroke="#000" stroke-width="1" stroke-dasharray="2,2"/>
<line x1="143.5" y1="436" x2="143.5" y2="515" stroke="#000" stroke-width="1" stroke-dasharray="2,2"/>
<line x1="164.5" y1="436" x2="164.5" y2="515" stroke="#000" stroke-width="1" stroke-dasharray="2,2"/>
<line x1="185.5" y1="436" x2="185.5" y2="515" stroke="#000" stroke-width="1" stroke-dasharray="2,2"/>
<line x1="205.5" y1="436" x2="205.5" y2="515" stroke="#000" stroke-width="1" stroke-dasharray="2,2"/>
<line x1="226.5" y1="436" x2="226.5" y2="515" stroke="#000" stroke-width="1" stroke-dasharray="2,2"/>
<g clip-path="url(#l5)">
<circle cx="170.2" cy="451.2" r="2.6" fill="#b01c1c"/>
<circle cx="177.1" cy="449.0" r="2.6" fill="#b01c1c"/>
<circle cx="184.1" cy="449.0" r="2.6" fill="#b01c1c"/>
<circle cx="191.2" cy="449.0" r="2.6" fill="#b01c1c"/>
<circle cx="198.1" cy="451.2" r="2.6" fill="#b01c1c"/>
<circle cx="204.6" cy="449.0" r="2.6" fill="#b01c1c"/>
<circle cx="211.2" cy="449.0" r="2.6" fill="#b01c1c"/>
<circle cx="218.5" cy="449.0" r="2.6" fill="#b01c1c"/>
<circle cx="225.1" cy="449.0" r="2.6" fill="#b01c1c"/>
<circle cx="232.4" cy="449.0" r="2.6" fill="#b01c1c"/>
<circle cx="239.0" cy="449.0" r="2.6" fill="#b01c1c"/>
<circle cx="244.9" cy="449.0" r="2.6" fill="#b01c1c"/>
<circle cx="150.5" cy="458.5" r="2.6" fill="#b01c1c"/>
<circle cx="157.5" cy="458.5" r="2.6" fill="#b01c1c"/>
<circle cx="164.4" cy="460.0" r="2.6" fill="#b01c1c"/>
<circle cx="137.0" cy="475.4" r="2.6" fill="#b01c1c"/>
<circle cx="143.5" cy="475.4" r="2.6" fill="#b01c1c"/>
<circle cx="191.5" cy="456.3" r="2.6" fill="#000"/>
<circle cx="198.1" cy="464.4" r="2.6" fill="#000"/>
<circle cx="204.3" cy="467.8" r="2.6" fill="#000"/>
<circle cx="211.2" cy="469.8" r="2.6" fill="#000"/>
<circle cx="218.5" cy="481.2" r="2.6" fill="#000"/>
<circle cx="225.1" cy="485.3" r="2.6" fill="#000"/>
<circle cx="232.4" cy="489.3" r="2.6" fill="#000"/>
<circle cx="239.0" cy="481.2" r="2.6" fill="#000"/>
<circle cx="244.9" cy="476.1" r="2.6" fill="#000"/>
<circle cx="184.1" cy="489.3" r="2.6" fill="#000"/>
<circle cx="143.5" cy="481.2" r="2.6" fill="#555"/>
<circle cx="150.5" cy="492.2" r="2.6" fill="#555"/>
<circle cx="157.5" cy="492.2" r="2.6" fill="#555"/>
<circle cx="164.4" cy="492.2" r="2.6" fill="#555"/>
<circle cx="191.5" cy="489.3" r="2.6" fill="#555"/>
<circle cx="198.1" cy="468.8" r="2.6" fill="#555"/>
<circle cx="211.2" cy="481.2" r="2.6" fill="#555"/>
<circle cx="218.5" cy="489.3" r="2.6" fill="#555"/>
<circle cx="225.1" cy="492.2" r="2.6" fill="#555"/>
<circle cx="232.4" cy="494.4" r="2.6" fill="#555"/>
<circle cx="184.1" cy="500.2" r="2.6" fill="#555"/>
<circle cx="177.6" cy="489.3" r="2.6" fill="#999"/>
<circle cx="198.1" cy="485.3" r="2.6" fill="#999"/>
<circle cx="211.2" cy="485.6" r="2.6" fill="#999"/>
<circle cx="239.0" cy="494.4" r="2.6" fill="#999"/>
<circle cx="244.9" cy="481.2" r="2.6" fill="#999"/>
<circle cx="184.1" cy="504.6" r="2.6" fill="#999"/>
<circle cx="170.2" cy="489.3" r="2.6" fill="#cfcfcf"/>
<circle cx="198.1" cy="490.0" r="2.6" fill="#cfcfcf"/>
<circle cx="211.2" cy="489.3" r="2.6" fill="#cfcfcf"/>
<circle cx="218.5" cy="500.2" r="2.6" fill="#cfcfcf"/>
<circle cx="225.1" cy="500.2" r="2.6" fill="#cfcfcf"/>
<circle cx="232.4" cy="500.2" r="2.6" fill="#cfcfcf"/>
<circle cx="239.0" cy="500.2" r="2.6" fill="#cfcfcf"/>
<circle cx="137.0" cy="505.4" r="2.6" fill="#cfcfcf"/>
<circle cx="143.5" cy="500.2" r="2.6" fill="#cfcfcf"/>
<circle cx="150.5" cy="500.2" r="2.6" fill="#fff"/>
<circle cx="164.4" cy="498.8" r="2.6" fill="#fff"/>
<circle cx="170.2" cy="492.2" r="2.6" fill="#fff"/>
<circle cx="177.6" cy="492.2" r="2.6" fill="#fff"/>
<circle cx="191.5" cy="500.2" r="2.6" fill="#fff"/>
<circle cx="198.1" cy="492.2" r="2.6" fill="#fff"/>
<circle cx="204.3" cy="492.2" r="2.6" fill="#fff"/>
<circle cx="211.2" cy="492.2" r="2.6" fill="#fff"/>
<circle cx="218.5" cy="509.8" r="2.6" fill="#fff"/>
<circle cx="225.1" cy="509.8" r="2.6" fill="#fff"/>
<circle cx="232.4" cy="509.8" r="2.6" fill="#fff"/>
<circle cx="239.0" cy="509.8" r="2.6" fill="#fff"/>
<circle cx="143.5" cy="505.4" r="2.6" fill="#fff"/>
<circle cx="184.1" cy="509.8" r="2.6" fill="#fff"/>
<circle cx="244.9" cy="500.2" r="2.6" fill="#fff"/>
<circle cx="137.0" cy="509.0" r="2.6" fill="#fff"/>
<polyline points="135.9,471.0 143.5,470.2 150.5,465.1 157.5,464.0 164.4,463.4 172.4,464.0 178.3,464.0 184.1,467.3 191.5,469.5 198.1,471.0 204.6,471.7 211.2,473.2 218.5,474.6 225.1,474.2 232.4,473.6 239.0,471.0 244.9,469.5" fill="none" stroke="#ff9c00" stroke-width="2.4" stroke-linejoin="round" />
</g>
<g clip-path="url(#l6)">
<polygon points="164.4,602.2 165.9,586.8 172.4,569.2 178.3,564.5 185.6,561.9 188.5,556.1 192.9,547.3 197.3,545.1 204.6,544.3 209.0,532.6 213.4,526.8 217.8,523.9 246.3,523.9 246.3,602.2" fill="#fff" />
<polygon points="192.9,602.2 192.9,561.9 195.1,542.9 197.3,531.9 203.2,532.6 205.4,538.5 209.0,534.4 213.4,529.0 217.8,526.0 232.4,525.6 238.3,535.3 246.3,544.1 246.3,523.1 232.4,523.1 232.4,524.9 246.3,524.9 246.3,602.2" fill="#9c9c9c" />
<polygon points="232.4,524.9 246.3,524.9 246.3,543.6 238.3,534.4" fill="#9c9c9c" />
<polyline points="209.0,532.6 213.4,526.8 217.8,524.1 232.4,524.4 238.3,534.1 246.3,542.9" fill="none" stroke="#fff" stroke-width="1.3" stroke-linejoin="round" />
<polygon points="135.6,602.2 135.6,576.5 143.5,563.4 149.8,575.8 155.6,582.4 164.4,584.6 165.1,602.2" fill="#555" />
<polygon points="165.1,602.2 165.1,589.0 178.3,591.9 184.1,568.5 191.5,569.2 194.4,576.5 198.8,585.3 203.9,594.8 212.0,551.7 217.8,538.5 225.9,534.8 232.4,542.9 238.3,554.6 246.3,566.3 246.3,602.2" fill="#555" />
<polygon points="138.8,602.2 149.0,591.2 154.1,594.8 164.4,602.2" fill="#303030" />
<polyline points="135.6,588.2 144.6,597.0 150.5,600.7" fill="none" stroke="#bbb" stroke-width="1" stroke-linejoin="round" />
<polyline points="184.9,600.0 190.0,579.5 193.7,572.1" fill="none" stroke="#bbb" stroke-width="1" stroke-linejoin="round" />
<rect x="217.5" y="589.7" width="2.0" height="12.4" fill="#ffb400" />
<rect x="224.2" y="589.7" width="2.0" height="12.4" fill="#ffb400" />
<rect x="231.0" y="589.7" width="2.0" height="12.4" fill="#ffb400" />
<rect x="238.0" y="589.7" width="2.0" height="12.4" fill="#ffb400" />
</g>
<line x1="135" y1="543.5" x2="245" y2="543.5" stroke="#000" stroke-width="1" stroke-dasharray="2,2"/>
<line x1="135" y1="562.5" x2="245" y2="562.5" stroke="#000" stroke-width="1" stroke-dasharray="2,2"/>
<line x1="135" y1="582.5" x2="245" y2="582.5" stroke="#000" stroke-width="1" stroke-dasharray="2,2"/>
<line x1="143.5" y1="523" x2="143.5" y2="601" stroke="#000" stroke-width="1" stroke-dasharray="2,2"/>
<line x1="164.5" y1="523" x2="164.5" y2="601" stroke="#000" stroke-width="1" stroke-dasharray="2,2"/>
<line x1="185.5" y1="523" x2="185.5" y2="601" stroke="#000" stroke-width="1" stroke-dasharray="2,2"/>
<line x1="205.5" y1="523" x2="205.5" y2="601" stroke="#000" stroke-width="1" stroke-dasharray="2,2"/>
<line x1="226.5" y1="523" x2="226.5" y2="601" stroke="#000" stroke-width="1" stroke-dasharray="2,2"/>
<rect x="135.5" y="57.5" width="110" height="77" fill="none" stroke="#000" stroke-width="1"/>
<rect x="135.5" y="143.5" width="110" height="77" fill="none" stroke="#000" stroke-width="1"/>
<rect x="135.5" y="229.5" width="110" height="77" fill="none" stroke="#000" stroke-width="1"/>
<rect x="135.5" y="315.5" width="110" height="77" fill="none" stroke="#000" stroke-width="1"/>
<rect x="135.5" y="398.5" width="110" height="32" fill="none" stroke="#000" stroke-width="1"/>
<rect x="135.5" y="436.5" width="110" height="79" fill="none" stroke="#000" stroke-width="1"/>
<rect x="135.5" y="523.5" width="110" height="78" fill="none" stroke="#000" stroke-width="1"/>
<text x="5.9" y="17.7" font-size="10.2" fill="#000" text-anchor="start" textLength="59.1" lengthAdjust="spacingAndGlyphs" >Czas lokalny</text>
<text x="5.9" y="29.4" font-size="10.2" fill="#000" text-anchor="start" textLength="54.2" lengthAdjust="spacingAndGlyphs" >(CET/CEST)</text>
<polyline points="68.3,16.5 133.2,16.5 155.8,45.6" fill="none" stroke="#000" stroke-width="1" stroke-linejoin="round" stroke-linecap="butt"/>
<text x="6.5" y="45.7" font-size="10.2" fill="#a82020" text-anchor="start" textLength="93.1" lengthAdjust="spacingAndGlyphs" >Temperatura gruntu</text>
<text x="27.7" y="55.6" font-size="10.2" fill="#a82020" text-anchor="start" textLength="39.1" lengthAdjust="spacingAndGlyphs" >max/min</text>
<polyline points="102.4,44.1 119.5,44.1 142.4,71.0" fill="none" stroke="#a82020" stroke-width="1" stroke-linejoin="round" stroke-linecap="butt"/>
<text x="5.5" y="67.2" font-size="10.2" fill="#000" text-anchor="start" textLength="62.5" lengthAdjust="spacingAndGlyphs" >Temperatura:</text>
<text x="12.8" y="79.5" font-size="10.2" fill="#ff0000" text-anchor="start" textLength="77.4" lengthAdjust="spacingAndGlyphs" >punkt środkowy</text>
<polyline points="92.2,76.1 115.2,76.1" fill="none" stroke="#ff0000" stroke-width="1" stroke-linejoin="round" stroke-linecap="butt"/>
<polyline points="130.6,76.3 132.5,77.0 143.4,92.4 155.1,104.1 170.7,110.0" fill="none" stroke="#ff0000" stroke-width="1" stroke-linejoin="round" stroke-linecap="butt"/>
<text x="27.7" y="89.8" font-size="10.2" fill="#ffcfc0" text-anchor="start" textLength="39.1" lengthAdjust="spacingAndGlyphs" >max/min</text>
<text x="9.9" y="101.4" font-size="10.2" fill="#0000ff" text-anchor="start" textLength="57.8" lengthAdjust="spacingAndGlyphs" >odczuwana</text>
<polyline points="70.0,99.2 131.7,99.2 135.6,102.2" fill="none" stroke="#0000ff" stroke-width="1" stroke-linejoin="round" stroke-linecap="butt"/>
<text x="27.7" y="111.6" font-size="10.2" fill="#b0d8ff" text-anchor="start" textLength="39.1" lengthAdjust="spacingAndGlyphs" >max/min</text>
<text x="6.5" y="123.6" font-size="10.2" fill="#6a5acd" text-anchor="start" textLength="87.1" lengthAdjust="spacingAndGlyphs" >Temp. punktu rosy</text>
<polyline points="95.6,120.2 131.7,120.2 142.4,112.9" fill="none" stroke="#6a5acd" stroke-width="1" stroke-linejoin="round" stroke-linecap="butt"/>
<text x="6.0" y="141.1" font-size="10.2" fill="#ff1818" text-anchor="start" textLength="95.0" lengthAdjust="spacingAndGlyphs" >Opad powyżej skali</text>
<polyline points="103.3,137.5 141.7,137.5 146.4,146.0" fill="none" stroke="#ff1818" stroke-width="1" stroke-linejoin="round" stroke-linecap="butt"/>
<text x="6.0" y="154.5" font-size="10.2" fill="#e05020" text-anchor="start" textLength="97.9" lengthAdjust="spacingAndGlyphs" >Wilgotność względna</text>
<polyline points="105.9,151.2 111.0,151.2" fill="none" stroke="#e05020" stroke-width="1" stroke-linejoin="round" stroke-linecap="butt"/>
<polyline points="129.8,150.2 146.4,160.0" fill="none" stroke="#e05020" stroke-width="1" stroke-linejoin="round" stroke-linecap="butt"/>
<text x="6.0" y="169.0" font-size="10.2" fill="#000" text-anchor="start" textLength="85.1" lengthAdjust="spacingAndGlyphs" >Wystąpienie burzy</text>
<polyline points="93.9,166.4 112.7,166.4" fill="none" stroke="#000" stroke-width="1" stroke-linejoin="round" stroke-linecap="butt"/>
<polyline points="129.8,166.4 132.5,166.4 137.5,171.0" fill="none" stroke="#000" stroke-width="1" stroke-linejoin="round" stroke-linecap="butt"/>
<text x="6.0" y="182.6" font-size="10.2" fill="#18b018" text-anchor="start" textLength="63.7" lengthAdjust="spacingAndGlyphs" >Deszcz: max</text>
<polyline points="71.4,179.3 139.5,179.3" fill="none" stroke="#18b018" stroke-width="1" stroke-linejoin="round" stroke-linecap="butt"/>
<text x="48.7" y="193.7" font-size="10.2" fill="#18b018" text-anchor="start" textLength="30.1" lengthAdjust="spacingAndGlyphs" >średni</text>
<polyline points="80.2,190.3 136.0,190.3" fill="none" stroke="#18b018" stroke-width="1" stroke-linejoin="round" stroke-linecap="butt"/>
<text x="6.0" y="204.8" font-size="10.2" fill="#2040d8" text-anchor="start" textLength="29.6" lengthAdjust="spacingAndGlyphs" >Śnieg:</text>
<text x="48.7" y="204.8" font-size="10.2" fill="#2040d8" text-anchor="start" textLength="19.9" lengthAdjust="spacingAndGlyphs" >max</text>
<polyline points="70.0,202.3 111.8,202.3" fill="none" stroke="#2040d8" stroke-width="1" stroke-linejoin="round" stroke-linecap="butt"/>
<polyline points="129.8,202.3 132.5,201.5 160.9,171.4" fill="none" stroke="#2040d8" stroke-width="1" stroke-linejoin="round" stroke-linecap="butt"/>
<text x="48.7" y="215.9" font-size="10.2" fill="#2040d8" text-anchor="start" textLength="30.1" lengthAdjust="spacingAndGlyphs" >średni</text>
<polyline points="81.1,213.0 131.5,213.0 157.1,187.8" fill="none" stroke="#2040d8" stroke-width="1" stroke-linejoin="round" stroke-linecap="butt"/>
<text x="6.0" y="227.9" font-size="10.2" fill="#ff1818" text-anchor="start" textLength="88.8" lengthAdjust="spacingAndGlyphs" >Wystąpienie opadu</text>
<polyline points="97.3,225.3 142.0,225.3 146.0,219.5" fill="none" stroke="#ff1818" stroke-width="1" stroke-linejoin="round" stroke-linecap="butt"/>
<text x="6.0" y="240.3" font-size="10.2" fill="#ff1818" text-anchor="start" textLength="71.8" lengthAdjust="spacingAndGlyphs" >konwekcyjnego</text>
<text x="4.8" y="266.4" font-size="10.2" fill="#000" text-anchor="start" textLength="42.8" lengthAdjust="spacingAndGlyphs" >Ciśnienie</text>
<polyline points="51.2,264.2 130.6,264.2 136.6,262.1" fill="none" stroke="#000" stroke-width="1" stroke-linejoin="round" stroke-linecap="butt"/>
<text x="4.8" y="279.2" font-size="10.2" fill="#000" text-anchor="start" textLength="67.2" lengthAdjust="spacingAndGlyphs" >zredukowane</text>
<text x="4.8" y="292.5" font-size="10.2" fill="#000" text-anchor="start" textLength="88.0" lengthAdjust="spacingAndGlyphs" >do poziomu morza</text>
<text x="4.8" y="321.6" font-size="10.2" fill="#000" text-anchor="start" textLength="66.7" lengthAdjust="spacingAndGlyphs" >Wiatr na 10m:</text>
<text x="9.9" y="337.7" font-size="10.2" fill="#ff1818" text-anchor="start" textLength="102.0" lengthAdjust="spacingAndGlyphs" >poryw powyżej skali –</text>
<polyline points="128.5,336.0 134.0,326.0 139.5,317.5" fill="none" stroke="#ff1818" stroke-width="1" stroke-linejoin="round" stroke-linecap="butt"/>
<polygon points="139.5,315.8 141.5,319.5 137.8,318.8" fill="#ff1818" />
<text x="9.9" y="351.9" font-size="10.2" fill="#ff1818" text-anchor="start" textLength="94.8" lengthAdjust="spacingAndGlyphs" >max porywy wiatru</text>
<polyline points="107.2,347.9 131.5,347.9 138.6,342.5 143.6,340.5" fill="none" stroke="#ff1818" stroke-width="1" stroke-linejoin="round" stroke-linecap="butt"/>
<text x="9.9" y="371.3" font-size="10.2" fill="#1a1aa0" text-anchor="start" textLength="79.1" lengthAdjust="spacingAndGlyphs" >prędkość wiatru</text>
<polyline points="92.2,367.3 140.0,367.3" fill="none" stroke="#1a1aa0" stroke-width="1" stroke-linejoin="round" stroke-linecap="butt"/>
<text x="9.9" y="384.6" font-size="10.2" fill="#1a1aa0" text-anchor="start" textLength="89.4" lengthAdjust="spacingAndGlyphs" >w środku obszaru</text>
<text x="9.9" y="412.8" font-size="10.2" fill="#1a1aa0" text-anchor="start" textLength="74.0" lengthAdjust="spacingAndGlyphs" >kierunek wiatru</text>
<polyline points="86.2,409.9 138.0,409.9" fill="none" stroke="#1a1aa0" stroke-width="1" stroke-linejoin="round" stroke-linecap="butt"/>
<text x="6.0" y="432.4" font-size="10.2" fill="#a82020" text-anchor="start" textLength="91.1" lengthAdjust="spacingAndGlyphs" >Wierzchołek chmur</text>
<polyline points="99.9,429.9 117.5,429.9 184.2,447.6" fill="none" stroke="#a82020" stroke-width="1" stroke-linejoin="round" stroke-linecap="butt"/>
<text x="6.0" y="447.9" font-size="10.2" fill="#000" text-anchor="start" textLength="85.9" lengthAdjust="spacingAndGlyphs" >Podstawa chmur*</text>
<text x="6.0" y="458.2" font-size="10.2" fill="#000" text-anchor="start" textLength="47.9" lengthAdjust="spacingAndGlyphs" >o pokryciu</text>
<text x="10.6" y="471.3" font-size="10.2" fill="#000" text-anchor="start" textLength="44.3" lengthAdjust="spacingAndGlyphs" >&gt; 7.9 okt.</text>
<polyline points="57.2,468.4 132.3,468.4 191.5,456.3" fill="none" stroke="#000" stroke-width="1" stroke-linejoin="round" stroke-linecap="butt"/>
<text x="10.6" y="482.1" font-size="10.2" fill="#505050" text-anchor="start" textLength="44.3" lengthAdjust="spacingAndGlyphs" >&gt; 6.5 okt.</text>
<polyline points="57.2,480.4 143.5,480.4" fill="none" stroke="#505050" stroke-width="1" stroke-linejoin="round" stroke-linecap="butt"/>
<text x="10.6" y="493.2" font-size="10.2" fill="#a0a0a0" text-anchor="start" textLength="44.3" lengthAdjust="spacingAndGlyphs" >&gt; 4.5 okt.</text>
<polyline points="57.2,490.2 131.5,490.2 143.5,500.5" fill="none" stroke="#a0a0a0" stroke-width="1" stroke-linejoin="round" stroke-linecap="butt"/>
<text x="10.6" y="503.1" font-size="10.2" fill="#d8d8d8" text-anchor="start" textLength="44.3" lengthAdjust="spacingAndGlyphs" >&gt; 2.5 okt.</text>
<polyline points="57.2,500.2 131.5,500.2 137.0,505.5" fill="none" stroke="#d8d8d8" stroke-width="1" stroke-linejoin="round" stroke-linecap="butt"/>
<rect x="10.6" y="505.1" width="44.4" height="11.1" fill="#87cefa" />
<text x="11.2" y="514.5" font-size="10.2" fill="#fff" text-anchor="start" textLength="43.7" lengthAdjust="spacingAndGlyphs" >&gt; 0.1 okt.</text>
<polyline points="55.0,508.9 136.6,508.9" fill="none" stroke="#87cefa" stroke-width="1.2" stroke-linejoin="round" stroke-linecap="butt"/>
<polyline points="55.0,510.6 136.6,510.6" fill="none" stroke="#ffffff" stroke-width="1.2" stroke-linejoin="round" stroke-linecap="butt"/>
<text x="6.0" y="529.4" font-size="10.2" fill="#ff8000" text-anchor="start" textLength="57.4" lengthAdjust="spacingAndGlyphs" >Widzialność</text>
<polyline points="67.4,527.3 129.8,527.3 140.0,513.3 172.5,465.5" fill="none" stroke="#ff8000" stroke-width="1" stroke-linejoin="round" stroke-linecap="butt"/>
<text x="5.9" y="547.3" font-size="10.2" fill="#000" text-anchor="start" textLength="39.6" lengthAdjust="spacingAndGlyphs" >Chmury:</text>
<rect x="9.8" y="551.7" width="41.4" height="10.8" fill="#87cefa" />
<text x="10.5" y="560.0" font-size="10.2" fill="#fff" text-anchor="start" textLength="40.6" lengthAdjust="spacingAndGlyphs" >wysokie</text>
<polyline points="54.2,556.0 170.0,556.0" fill="none" stroke="#87cefa" stroke-width="1.2" stroke-linejoin="round" stroke-linecap="butt"/>
<polyline points="54.2,557.8 170.0,557.8" fill="none" stroke="#ffffff" stroke-width="1.2" stroke-linejoin="round" stroke-linecap="butt"/>
<text x="9.8" y="573.0" font-size="10.2" fill="#a0a0a0" text-anchor="start" textLength="36.1" lengthAdjust="spacingAndGlyphs" >średnie</text>
<polyline points="49.2,571.4 184.0,571.4" fill="none" stroke="#a0a0a0" stroke-width="1" stroke-linejoin="round" stroke-linecap="butt"/>
<text x="9.8" y="584.8" font-size="10.2" fill="#505050" text-anchor="start" textLength="27.2" lengthAdjust="spacingAndGlyphs" >niskie</text>
<polyline points="40.4,582.2 121.7,582.2" fill="none" stroke="#505050" stroke-width="1" stroke-linejoin="round" stroke-linecap="butt"/>
<polyline points="129.5,582.2 140.0,582.2" fill="none" stroke="#505050" stroke-width="1" stroke-linejoin="round" stroke-linecap="butt"/>
<text x="9.8" y="596.6" font-size="10.2" fill="#303030" text-anchor="start" textLength="61.7" lengthAdjust="spacingAndGlyphs" >bardzo niskie</text>
<polyline points="74.5,594.1 150.0,594.1" fill="none" stroke="#303030" stroke-width="1" stroke-linejoin="round" stroke-linecap="butt"/>
<text x="5.9" y="608.4" font-size="10.2" fill="#ffb000" text-anchor="start" textLength="20.7" lengthAdjust="spacingAndGlyphs" >Mgła</text>
<polyline points="30.5,605.4 216.5,605.4 218.5,601.0" fill="none" stroke="#ffb000" stroke-width="1" stroke-linejoin="round" stroke-linecap="butt"/>
<text x="5.9" y="625.0" font-size="10.2" fill="#000" text-anchor="start" textLength="131.6" lengthAdjust="spacingAndGlyphs" >Czas uniwersalny (UTC)</text>
<polyline points="137.9,622.5 145.0,622.5 157.0,610.0" fill="none" stroke="#000" stroke-width="1" stroke-linejoin="round" stroke-linecap="butt"/>
<text x="5.5" y="650.2" font-size="9.2" fill="#000" text-anchor="start" textLength="103.1" lengthAdjust="spacingAndGlyphs" font-weight="bold">* powyżej poziomu morza</text>
<text x="128.5" y="63.0" font-size="10.6" fill="#000" text-anchor="end" >30</text>
<text x="265.8" y="63.0" font-size="10.6" fill="#000" text-anchor="end" >30</text>
<text x="128.5" y="80.5" font-size="10.6" fill="#000" text-anchor="end" >20</text>
<text x="265.8" y="80.5" font-size="10.6" fill="#000" text-anchor="end" >20</text>
<text x="128.5" y="97.7" font-size="10.6" fill="#000" text-anchor="end" >10</text>
<text x="265.8" y="97.7" font-size="10.6" fill="#000" text-anchor="end" >10</text>
<text x="128.5" y="114.0" font-size="10.6" fill="#000" text-anchor="end" >0</text>
<text x="265.8" y="114.0" font-size="10.6" fill="#000" text-anchor="end" >0</text>
<text x="128.5" y="131.8" font-size="10.6" fill="#000" text-anchor="end" >-10</text>
<text x="265.8" y="131.8" font-size="10.6" fill="#000" text-anchor="end" >-10</text>
<text x="128.5" y="153.8" font-size="10.6" fill="#000" text-anchor="end" >2.0</text>
<text x="265.8" y="153.8" font-size="10.6" fill="#e05020" text-anchor="end" >96</text>
<text x="128.5" y="171.6" font-size="10.6" fill="#000" text-anchor="end" >1.5</text>
<text x="265.8" y="171.6" font-size="10.6" fill="#e05020" text-anchor="end" >84</text>
<text x="128.5" y="188.7" font-size="10.6" fill="#000" text-anchor="end" >1.0</text>
<text x="265.8" y="188.7" font-size="10.6" fill="#e05020" text-anchor="end" >73</text>
<text x="128.5" y="206.5" font-size="10.6" fill="#000" text-anchor="end" >0.5</text>
<text x="265.8" y="206.5" font-size="10.6" fill="#e05020" text-anchor="end" >61</text>
<text x="128.5" y="223.5" font-size="10.6" fill="#000" text-anchor="end" >0.0</text>
<text x="265.8" y="223.5" font-size="10.6" fill="#e05020" text-anchor="end" >50</text>
<text x="128.5" y="235.2" font-size="10.6" fill="#000" text-anchor="end" >1018</text>
<text x="251.0" y="235.2" font-size="10.6" fill="#000" text-anchor="start" >1018</text>
<text x="128.5" y="257.1" font-size="10.6" fill="#000" text-anchor="end" >1016</text>
<text x="251.0" y="257.1" font-size="10.6" fill="#000" text-anchor="start" >1016</text>
<text x="128.5" y="281.4" font-size="10.6" fill="#000" text-anchor="end" >1014</text>
<text x="251.0" y="281.4" font-size="10.6" fill="#000" text-anchor="start" >1014</text>
<text x="128.5" y="304.8" font-size="10.6" fill="#000" text-anchor="end" >1012</text>
<text x="251.0" y="304.8" font-size="10.6" fill="#000" text-anchor="start" >1012</text>
<text x="128.5" y="318.7" font-size="10.6" fill="#000" text-anchor="end" >20</text>
<text x="256.4" y="318.7" font-size="10.6" fill="#000" text-anchor="middle" >72</text>
<text x="128.5" y="337.8" font-size="10.6" fill="#000" text-anchor="end" >15</text>
<text x="256.4" y="337.8" font-size="10.6" fill="#000" text-anchor="middle" >54</text>
<text x="128.5" y="357.7" font-size="10.6" fill="#000" text-anchor="end" >10</text>
<text x="256.4" y="357.7" font-size="10.6" fill="#000" text-anchor="middle" >36</text>
<text x="128.5" y="376.7" font-size="10.6" fill="#000" text-anchor="end" >5</text>
<text x="256.4" y="376.7" font-size="10.6" fill="#000" text-anchor="middle" >18</text>
<text x="128.5" y="395.3" font-size="10.6" fill="#000" text-anchor="end" >0</text>
<text x="256.4" y="395.3" font-size="10.6" fill="#000" text-anchor="middle" >0</text>
<text x="128.5" y="439.8" font-size="10.6" fill="#000" text-anchor="end" >15.0</text>
<text x="250.9" y="439.8" font-size="10.6" fill="#ff8000" text-anchor="start" >100</text>
<text x="128.5" y="459.7" font-size="10.6" fill="#000" text-anchor="end" >7.0</text>
<text x="250.9" y="459.7" font-size="10.6" fill="#ff8000" text-anchor="start" >20</text>
<text x="128.5" y="478.7" font-size="10.6" fill="#000" text-anchor="end" >2.0</text>
<text x="250.9" y="478.7" font-size="10.6" fill="#ff8000" text-anchor="start" >5</text>
<text x="128.5" y="498.5" font-size="10.6" fill="#000" text-anchor="end" >0.5</text>
<text x="250.9" y="498.5" font-size="10.6" fill="#ff8000" text-anchor="start" >1</text>
<text x="128.5" y="517.3" font-size="10.6" fill="#000" text-anchor="end" >0.0</text>
<text x="250.9" y="517.3" font-size="10.6" fill="#ff8000" text-anchor="start" >0</text>
<text x="128.5" y="526.5" font-size="10.6" fill="#000" text-anchor="end" >8</text>
<text x="250.9" y="526.5" font-size="10.6" fill="#ff8000" text-anchor="start" >1</text>
<text x="128.5" y="546.5" font-size="10.6" fill="#000" text-anchor="end" >6</text>
<text x="250.9" y="546.5" font-size="10.6" fill="#ff8000" text-anchor="start" >0.75</text>
<text x="128.5" y="565.6" font-size="10.6" fill="#000" text-anchor="end" >4</text>
<text x="250.9" y="565.6" font-size="10.6" fill="#ff8000" text-anchor="start" >0.5</text>
<text x="128.5" y="585.8" font-size="10.6" fill="#000" text-anchor="end" >2</text>
<text x="250.9" y="585.8" font-size="10.6" fill="#ff8000" text-anchor="start" >0.25</text>
<text x="128.5" y="604.4" font-size="10.6" fill="#000" text-anchor="end" >0</text>
<text x="250.9" y="604.4" font-size="10.6" fill="#ff8000" text-anchor="start" >0</text>
<text x="163.9" y="51.8" font-size="11.5" fill="#000" text-anchor="middle" >20</text>
<text x="204.3" y="51.8" font-size="11.5" fill="#000" text-anchor="middle" >02</text>
<text x="244.2" y="51.8" font-size="11.5" fill="#000" text-anchor="middle" >08</text>
<text x="163.8" y="614.4" font-size="11.5" fill="#000" text-anchor="middle" >18</text>
<text x="204.2" y="614.4" font-size="11.5" fill="#000" text-anchor="middle" >00</text>
<text x="245.4" y="614.4" font-size="11.5" fill="#000" text-anchor="middle" >06</text>
</svg></body></html>
